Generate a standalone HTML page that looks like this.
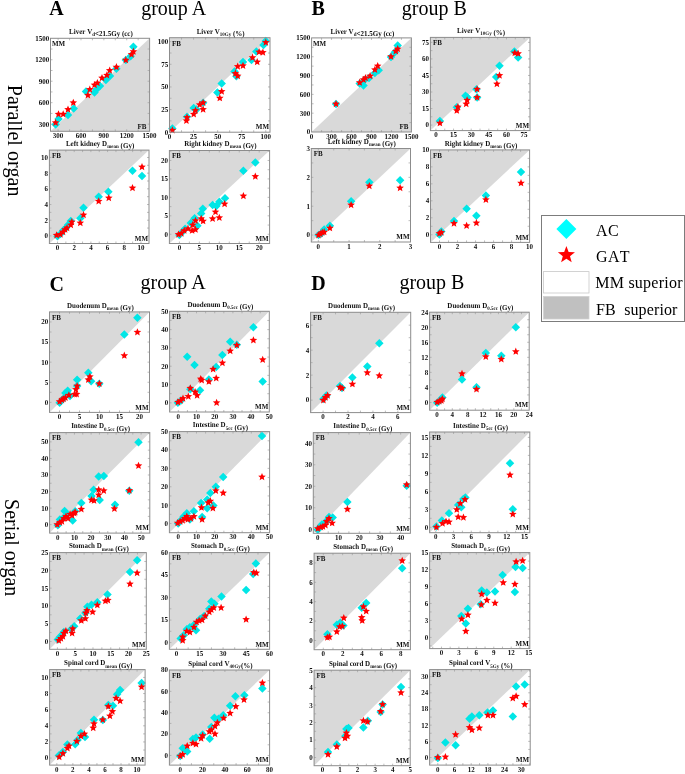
<!DOCTYPE html>
<html><head><meta charset="utf-8"><style>
html,body{margin:0;padding:0;background:#fff;width:685px;height:774px;overflow:hidden}
svg{display:block;font-kerning:none;will-change:transform}
</style></head><body>
<svg width="685" height="774" viewBox="0 0 685 774">
<rect width="685" height="774" fill="#fff"/>
<polygon points="50.5,131.3 149.6,38.3 149.6,131.3" fill="#d9d9d9"/>
<path d="M58.12,131.3v-2M58.12,38.3v2M50.5,124.15h2M149.6,124.15h-2M69.56,131.3v-2M69.56,38.3v2M50.5,113.42h2M149.6,113.42h-2M80.99,131.3v-2M80.99,38.3v2M50.5,102.68h2M149.6,102.68h-2M92.43,131.3v-2M92.43,38.3v2M50.5,91.95h2M149.6,91.95h-2M103.86,131.3v-2M103.86,38.3v2M50.5,81.22h2M149.6,81.22h-2M115.30,131.3v-2M115.30,38.3v2M50.5,70.49h2M149.6,70.49h-2M126.73,131.3v-2M126.73,38.3v2M50.5,59.76h2M149.6,59.76h-2M138.17,131.3v-2M138.17,38.3v2M50.5,49.03h2M149.6,49.03h-2" stroke="#a0a0a0" stroke-width="0.7" fill="none"/>
<polygon points="55.60,120.35 59.85,124.60 55.60,128.85 51.35,124.60" fill="#00e6e6"/>
<polygon points="58.50,114.75 62.75,119.00 58.50,123.25 54.25,119.00" fill="#00e6e6"/>
<polygon points="68.00,110.85 72.25,115.10 68.00,119.35 63.75,115.10" fill="#00e6e6"/>
<polygon points="73.70,104.25 77.95,108.50 73.70,112.75 69.45,108.50" fill="#00e6e6"/>
<polygon points="86.00,87.15 90.25,91.40 86.00,95.65 81.75,91.40" fill="#00e6e6"/>
<polygon points="94.50,88.15 98.75,92.40 94.50,96.65 90.25,92.40" fill="#00e6e6"/>
<polygon points="96.40,85.25 100.65,89.50 96.40,93.75 92.15,89.50" fill="#00e6e6"/>
<polygon points="100.00,81.75 104.25,86.00 100.00,90.25 95.75,86.00" fill="#00e6e6"/>
<polygon points="105.90,75.75 110.15,80.00 105.90,84.25 101.65,80.00" fill="#00e6e6"/>
<polygon points="110.00,71.75 114.25,76.00 110.00,80.25 105.75,76.00" fill="#00e6e6"/>
<polygon points="116.40,64.45 120.65,68.70 116.40,72.95 112.15,68.70" fill="#00e6e6"/>
<polygon points="125.80,55.85 130.05,60.10 125.80,64.35 121.55,60.10" fill="#00e6e6"/>
<polygon points="130.60,52.05 134.85,56.30 130.60,60.55 126.35,56.30" fill="#00e6e6"/>
<polygon points="133.40,42.55 137.65,46.80 133.40,51.05 129.15,46.80" fill="#00e6e6"/>
<polygon points="55.60,118.70 56.66,121.24 59.40,121.46 57.31,123.26 57.95,125.94 55.60,124.50 53.25,125.94 53.89,123.26 51.80,121.46 54.54,121.24" fill="#ff0000"/>
<polygon points="58.50,110.20 59.56,112.74 62.30,112.96 60.21,114.76 60.85,117.44 58.50,116.00 56.15,117.44 56.79,114.76 54.70,112.96 57.44,112.74" fill="#ff0000"/>
<polygon points="63.20,110.20 64.26,112.74 67.00,112.96 64.91,114.76 65.55,117.44 63.20,116.00 60.85,117.44 61.49,114.76 59.40,112.96 62.14,112.74" fill="#ff0000"/>
<polygon points="68.00,105.50 69.06,108.04 71.80,108.26 69.71,110.06 70.35,112.74 68.00,111.30 65.65,112.74 66.29,110.06 64.20,108.26 66.94,108.04" fill="#ff0000"/>
<polygon points="73.30,98.80 74.36,101.34 77.10,101.56 75.01,103.36 75.65,106.04 73.30,104.60 70.95,106.04 71.59,103.36 69.50,101.56 72.24,101.34" fill="#ff0000"/>
<polygon points="87.90,91.20 88.96,93.74 91.70,93.96 89.61,95.76 90.25,98.44 87.90,97.00 85.55,98.44 86.19,95.76 84.10,93.96 86.84,93.74" fill="#ff0000"/>
<polygon points="89.80,85.50 90.86,88.04 93.60,88.26 91.51,90.06 92.15,92.74 89.80,91.30 87.45,92.74 88.09,90.06 86.00,88.26 88.74,88.04" fill="#ff0000"/>
<polygon points="94.50,81.00 95.56,83.54 98.30,83.76 96.21,85.56 96.85,88.24 94.50,86.80 92.15,88.24 92.79,85.56 90.70,83.76 93.44,83.54" fill="#ff0000"/>
<polygon points="97.40,79.00 98.46,81.54 101.20,81.76 99.11,83.56 99.75,86.24 97.40,84.80 95.05,86.24 95.69,83.56 93.60,81.76 96.34,81.54" fill="#ff0000"/>
<polygon points="102.00,74.00 103.06,76.54 105.80,76.76 103.71,78.56 104.35,81.24 102.00,79.80 99.65,81.24 100.29,78.56 98.20,76.76 100.94,76.54" fill="#ff0000"/>
<polygon points="106.90,71.30 107.96,73.84 110.70,74.06 108.61,75.86 109.25,78.54 106.90,77.10 104.55,78.54 105.19,75.86 103.10,74.06 105.84,73.84" fill="#ff0000"/>
<polygon points="109.70,66.50 110.76,69.04 113.50,69.26 111.41,71.06 112.05,73.74 109.70,72.30 107.35,73.74 107.99,71.06 105.90,69.26 108.64,69.04" fill="#ff0000"/>
<polygon points="116.40,63.10 117.46,65.64 120.20,65.86 118.11,67.66 118.75,70.34 116.40,68.90 114.05,70.34 114.69,67.66 112.60,65.86 115.34,65.64" fill="#ff0000"/>
<polygon points="125.80,56.10 126.86,58.64 129.60,58.86 127.51,60.66 128.15,63.34 125.80,61.90 123.45,63.34 124.09,60.66 122.00,58.86 124.74,58.64" fill="#ff0000"/>
<polygon points="131.50,50.40 132.56,52.94 135.30,53.16 133.21,54.96 133.85,57.64 131.50,56.20 129.15,57.64 129.79,54.96 127.70,53.16 130.44,52.94" fill="#ff0000"/>
<polygon points="133.40,47.60 134.46,50.14 137.20,50.36 135.11,52.16 135.75,54.84 133.40,53.40 131.05,54.84 131.69,52.16 129.60,50.36 132.34,50.14" fill="#ff0000"/>
<rect x="50.5" y="38.3" width="99.10" height="93.00" fill="none" stroke="#8c8c8c" stroke-width="1"/>
<g font-family="Liberation Serif, serif" text-rendering="geometricPrecision" font-weight="bold" font-size="7" fill="#111"><text x="58.12" y="138.00" text-anchor="middle" transform="matrix(1,0,0,1.08,0,-11.040)">300</text><text x="49.20" y="126.55" text-anchor="end" transform="matrix(1,0,0,1.08,0,-10.124)">300</text><text x="80.99" y="138.00" text-anchor="middle" transform="matrix(1,0,0,1.08,0,-11.040)">600</text><text x="49.20" y="105.08" text-anchor="end" transform="matrix(1,0,0,1.08,0,-8.407)">600</text><text x="103.86" y="138.00" text-anchor="middle" transform="matrix(1,0,0,1.08,0,-11.040)">900</text><text x="49.20" y="83.62" text-anchor="end" transform="matrix(1,0,0,1.08,0,-6.690)">900</text><text x="126.73" y="138.00" text-anchor="middle" transform="matrix(1,0,0,1.08,0,-11.040)">1200</text><text x="49.20" y="62.16" text-anchor="end" transform="matrix(1,0,0,1.08,0,-4.973)">1200</text><text x="149.60" y="138.00" text-anchor="middle" transform="matrix(1,0,0,1.08,0,-11.040)">1500</text><text x="49.20" y="40.70" text-anchor="end" transform="matrix(1,0,0,1.08,0,-3.256)">1500</text><text x="51.90" y="46.10" text-anchor="start" transform="matrix(1,0,0,1.08,0,-3.688)">MM</text><text x="137.60" y="128.50" text-anchor="start" transform="matrix(1,0,0,1.08,0,-10.280)">FB</text></g>
<g font-family="Liberation Serif, serif" text-rendering="geometricPrecision" font-weight="bold" font-size="7" fill="#111"><text x="100.95" y="34.10" text-anchor="middle" transform="matrix(1,0,0,1.08,0,-2.728)"><tspan>Liver V</tspan><tspan font-size="5" dy="2.0">d</tspan><tspan dy="-2.0"></tspan><tspan>&lt;21.5Gy (cc)</tspan></text></g>
<polygon points="169.5,132.2 270,37.7 169.5,37.7" fill="#d9d9d9"/>
<path d="M181.53,132.2v-2M181.53,37.7v2M169.5,120.89h2M270,120.89h-2M193.57,132.2v-2M193.57,37.7v2M169.5,109.57h2M270,109.57h-2M205.60,132.2v-2M205.60,37.7v2M169.5,98.26h2M270,98.26h-2M217.63,132.2v-2M217.63,37.7v2M169.5,86.94h2M270,86.94h-2M229.67,132.2v-2M229.67,37.7v2M169.5,75.63h2M270,75.63h-2M241.70,132.2v-2M241.70,37.7v2M169.5,64.31h2M270,64.31h-2M253.73,132.2v-2M253.73,37.7v2M169.5,53.00h2M270,53.00h-2M265.76,132.2v-2M265.76,37.7v2M169.5,41.68h2M270,41.68h-2" stroke="#a0a0a0" stroke-width="0.7" fill="none"/>
<polygon points="172.40,124.15 176.65,128.40 172.40,132.65 168.15,128.40" fill="#00e6e6"/>
<polygon points="187.00,112.45 191.25,116.70 187.00,120.95 182.75,116.70" fill="#00e6e6"/>
<polygon points="193.70,103.75 197.95,108.00 193.70,112.25 189.45,108.00" fill="#00e6e6"/>
<polygon points="196.50,105.25 200.75,109.50 196.50,113.75 192.25,109.50" fill="#00e6e6"/>
<polygon points="203.10,98.55 207.35,102.80 203.10,107.05 198.85,102.80" fill="#00e6e6"/>
<polygon points="217.40,88.15 221.65,92.40 217.40,96.65 213.15,92.40" fill="#00e6e6"/>
<polygon points="221.70,79.25 225.95,83.50 221.70,87.75 217.45,83.50" fill="#00e6e6"/>
<polygon points="234.50,67.25 238.75,71.50 234.50,75.75 230.25,71.50" fill="#00e6e6"/>
<polygon points="236.40,71.95 240.65,76.20 236.40,80.45 232.15,76.20" fill="#00e6e6"/>
<polygon points="243.00,57.75 247.25,62.00 243.00,66.25 238.75,62.00" fill="#00e6e6"/>
<polygon points="251.50,55.85 255.75,60.10 251.50,64.35 247.25,60.10" fill="#00e6e6"/>
<polygon points="256.30,47.35 260.55,51.60 256.30,55.85 252.05,51.60" fill="#00e6e6"/>
<polygon points="263.50,40.65 267.75,44.90 263.50,49.15 259.25,44.90" fill="#00e6e6"/>
<polygon points="265.80,36.85 270.05,41.10 265.80,45.35 261.55,41.10" fill="#00e6e6"/>
<polygon points="172.40,126.30 173.46,128.84 176.20,129.06 174.11,130.86 174.75,133.54 172.40,132.10 170.05,133.54 170.69,130.86 168.60,129.06 171.34,128.84" fill="#ff0000"/>
<polygon points="186.40,116.80 187.46,119.34 190.20,119.56 188.11,121.36 188.75,124.04 186.40,122.60 184.05,124.04 184.69,121.36 182.60,119.56 185.34,119.34" fill="#ff0000"/>
<polygon points="187.00,113.50 188.06,116.04 190.80,116.26 188.71,118.06 189.35,120.74 187.00,119.30 184.65,120.74 185.29,118.06 183.20,116.26 185.94,116.04" fill="#ff0000"/>
<polygon points="193.70,110.20 194.76,112.74 197.50,112.96 195.41,114.76 196.05,117.44 193.70,116.00 191.35,117.44 191.99,114.76 189.90,112.96 192.64,112.74" fill="#ff0000"/>
<polygon points="195.50,106.40 196.56,108.94 199.30,109.16 197.21,110.96 197.85,113.64 195.50,112.20 193.15,113.64 193.79,110.96 191.70,109.16 194.44,108.94" fill="#ff0000"/>
<polygon points="199.70,100.70 200.76,103.24 203.50,103.46 201.41,105.26 202.05,107.94 199.70,106.50 197.35,107.94 197.99,105.26 195.90,103.46 198.64,103.24" fill="#ff0000"/>
<polygon points="203.10,98.80 204.16,101.34 206.90,101.56 204.81,103.36 205.45,106.04 203.10,104.60 200.75,106.04 201.39,103.36 199.30,101.56 202.04,101.34" fill="#ff0000"/>
<polygon points="203.10,105.50 204.16,108.04 206.90,108.26 204.81,110.06 205.45,112.74 203.10,111.30 200.75,112.74 201.39,110.06 199.30,108.26 202.04,108.04" fill="#ff0000"/>
<polygon points="219.80,94.10 220.86,96.64 223.60,96.86 221.51,98.66 222.15,101.34 219.80,99.90 217.45,101.34 218.09,98.66 216.00,96.86 218.74,96.64" fill="#ff0000"/>
<polygon points="221.70,87.40 222.76,89.94 225.50,90.16 223.41,91.96 224.05,94.64 221.70,93.20 219.35,94.64 219.99,91.96 217.90,90.16 220.64,89.94" fill="#ff0000"/>
<polygon points="235.40,69.40 236.46,71.94 239.20,72.16 237.11,73.96 237.75,76.64 235.40,75.20 233.05,76.64 233.69,73.96 231.60,72.16 234.34,71.94" fill="#ff0000"/>
<polygon points="237.70,62.40 238.76,64.94 241.50,65.16 239.41,66.96 240.05,69.64 237.70,68.20 235.35,69.64 235.99,66.96 233.90,65.16 236.64,64.94" fill="#ff0000"/>
<polygon points="237.70,71.90 238.76,74.44 241.50,74.66 239.41,76.46 240.05,79.14 237.70,77.70 235.35,79.14 235.99,76.46 233.90,74.66 236.64,74.44" fill="#ff0000"/>
<polygon points="243.00,61.80 244.06,64.34 246.80,64.56 244.71,66.36 245.35,69.04 243.00,67.60 240.65,69.04 241.29,66.36 239.20,64.56 241.94,64.34" fill="#ff0000"/>
<polygon points="252.50,53.60 253.56,56.14 256.30,56.36 254.21,58.16 254.85,60.84 252.50,59.40 250.15,60.84 250.79,58.16 248.70,56.36 251.44,56.14" fill="#ff0000"/>
<polygon points="257.20,58.00 258.26,60.54 261.00,60.76 258.91,62.56 259.55,65.24 257.20,63.80 254.85,65.24 255.49,62.56 253.40,60.76 256.14,60.54" fill="#ff0000"/>
<polygon points="259.10,48.00 260.16,50.54 262.90,50.76 260.81,52.56 261.45,55.24 259.10,53.80 256.75,55.24 257.39,52.56 255.30,50.76 258.04,50.54" fill="#ff0000"/>
<polygon points="262.90,48.50 263.96,51.04 266.70,51.26 264.61,53.06 265.25,55.74 262.90,54.30 260.55,55.74 261.19,53.06 259.10,51.26 261.84,51.04" fill="#ff0000"/>
<polygon points="265.80,38.50 266.86,41.04 269.60,41.26 267.51,43.06 268.15,45.74 265.80,44.30 263.45,45.74 264.09,43.06 262.00,41.26 264.74,41.04" fill="#ff0000"/>
<rect x="169.5" y="37.7" width="100.50" height="94.50" fill="none" stroke="#8c8c8c" stroke-width="1"/>
<g font-family="Liberation Serif, serif" text-rendering="geometricPrecision" font-weight="bold" font-size="7" fill="#111"><text x="169.50" y="138.90" text-anchor="middle" transform="matrix(1,0,0,1.08,0,-11.112)">0</text><text x="168.20" y="134.60" text-anchor="end" transform="matrix(1,0,0,1.08,0,-10.768)">0</text><text x="193.57" y="138.90" text-anchor="middle" transform="matrix(1,0,0,1.08,0,-11.112)">25</text><text x="168.20" y="111.97" text-anchor="end" transform="matrix(1,0,0,1.08,0,-8.958)">25</text><text x="217.63" y="138.90" text-anchor="middle" transform="matrix(1,0,0,1.08,0,-11.112)">50</text><text x="168.20" y="89.34" text-anchor="end" transform="matrix(1,0,0,1.08,0,-7.147)">50</text><text x="241.70" y="138.90" text-anchor="middle" transform="matrix(1,0,0,1.08,0,-11.112)">75</text><text x="168.20" y="66.71" text-anchor="end" transform="matrix(1,0,0,1.08,0,-5.337)">75</text><text x="265.76" y="138.90" text-anchor="middle" transform="matrix(1,0,0,1.08,0,-11.112)">100</text><text x="168.20" y="44.08" text-anchor="end" transform="matrix(1,0,0,1.08,0,-3.527)">100</text><text x="172.00" y="45.50" text-anchor="start" transform="matrix(1,0,0,1.08,0,-3.640)">FB</text><text x="255.80" y="129.40" text-anchor="start" transform="matrix(1,0,0,1.08,0,-10.352)">MM</text></g>
<g font-family="Liberation Serif, serif" text-rendering="geometricPrecision" font-weight="bold" font-size="7" fill="#111"><text x="220.65" y="33.50" text-anchor="middle" transform="matrix(1,0,0,1.08,0,-2.680)"><tspan>Liver V</tspan><tspan font-size="5" dy="2.0">10Gy</tspan><tspan dy="-2.0"></tspan><tspan> (%)</tspan></text></g>
<polygon points="311.6,132.0 411.4,37.9 411.4,132.0" fill="#d9d9d9"/>
<path d="M321.58,132.0v-2M321.58,37.9v2M311.6,122.59h2M411.4,122.59h-2M331.56,132.0v-2M331.56,37.9v2M311.6,113.18h2M411.4,113.18h-2M341.54,132.0v-2M341.54,37.9v2M311.6,103.77h2M411.4,103.77h-2M351.52,132.0v-2M351.52,37.9v2M311.6,94.36h2M411.4,94.36h-2M361.50,132.0v-2M361.50,37.9v2M311.6,84.95h2M411.4,84.95h-2M371.48,132.0v-2M371.48,37.9v2M311.6,75.54h2M411.4,75.54h-2M381.46,132.0v-2M381.46,37.9v2M311.6,66.13h2M411.4,66.13h-2M391.44,132.0v-2M391.44,37.9v2M311.6,56.72h2M411.4,56.72h-2M401.42,132.0v-2M401.42,37.9v2M311.6,47.31h2M411.4,47.31h-2" stroke="#a0a0a0" stroke-width="0.7" fill="none"/>
<polygon points="336.00,99.75 340.25,104.00 336.00,108.25 331.75,104.00" fill="#00e6e6"/>
<polygon points="359.70,79.25 363.95,83.50 359.70,87.75 355.45,83.50" fill="#00e6e6"/>
<polygon points="363.50,81.15 367.75,85.40 363.50,89.65 359.25,85.40" fill="#00e6e6"/>
<polygon points="364.50,75.75 368.75,80.00 364.50,84.25 360.25,80.00" fill="#00e6e6"/>
<polygon points="369.00,73.75 373.25,78.00 369.00,82.25 364.75,78.00" fill="#00e6e6"/>
<polygon points="374.90,68.75 379.15,73.00 374.90,77.25 370.65,73.00" fill="#00e6e6"/>
<polygon points="378.70,65.95 382.95,70.20 378.70,74.45 374.45,70.20" fill="#00e6e6"/>
<polygon points="391.00,52.75 395.25,57.00 391.00,61.25 386.75,57.00" fill="#00e6e6"/>
<polygon points="394.80,47.95 399.05,52.20 394.80,56.45 390.55,52.20" fill="#00e6e6"/>
<polygon points="397.70,41.25 401.95,45.50 397.70,49.75 393.45,45.50" fill="#00e6e6"/>
<polygon points="336.00,100.00 337.06,102.54 339.80,102.76 337.71,104.56 338.35,107.24 336.00,105.80 333.65,107.24 334.29,104.56 332.20,102.76 334.94,102.54" fill="#ff0000"/>
<polygon points="359.70,78.60 360.76,81.14 363.50,81.36 361.41,83.16 362.05,85.84 359.70,84.40 357.35,85.84 357.99,83.16 355.90,81.36 358.64,81.14" fill="#ff0000"/>
<polygon points="363.50,75.70 364.56,78.24 367.30,78.46 365.21,80.26 365.85,82.94 363.50,81.50 361.15,82.94 361.79,80.26 359.70,78.46 362.44,78.24" fill="#ff0000"/>
<polygon points="365.50,74.00 366.56,76.54 369.30,76.76 367.21,78.56 367.85,81.24 365.50,79.80 363.15,81.24 363.79,78.56 361.70,76.76 364.44,76.54" fill="#ff0000"/>
<polygon points="370.10,71.90 371.16,74.44 373.90,74.66 371.81,76.46 372.45,79.14 370.10,77.70 367.75,79.14 368.39,76.46 366.30,74.66 369.04,74.44" fill="#ff0000"/>
<polygon points="374.90,65.80 375.96,68.34 378.70,68.56 376.61,70.36 377.25,73.04 374.90,71.60 372.55,73.04 373.19,70.36 371.10,68.56 373.84,68.34" fill="#ff0000"/>
<polygon points="377.70,62.00 378.76,64.54 381.50,64.76 379.41,66.56 380.05,69.24 377.70,67.80 375.35,69.24 375.99,66.56 373.90,64.76 376.64,64.54" fill="#ff0000"/>
<polygon points="391.00,52.60 392.06,55.14 394.80,55.36 392.71,57.16 393.35,59.84 391.00,58.40 388.65,59.84 389.29,57.16 387.20,55.36 389.94,55.14" fill="#ff0000"/>
<polygon points="395.80,47.20 396.86,49.74 399.60,49.96 397.51,51.76 398.15,54.44 395.80,53.00 393.45,54.44 394.09,51.76 392.00,49.96 394.74,49.74" fill="#ff0000"/>
<polygon points="397.70,45.00 398.76,47.54 401.50,47.76 399.41,49.56 400.05,52.24 397.70,50.80 395.35,52.24 395.99,49.56 393.90,47.76 396.64,47.54" fill="#ff0000"/>
<rect x="311.6" y="37.9" width="99.80" height="94.10" fill="none" stroke="#8c8c8c" stroke-width="1"/>
<g font-family="Liberation Serif, serif" text-rendering="geometricPrecision" font-weight="bold" font-size="7" fill="#111"><text x="311.60" y="138.70" text-anchor="middle" transform="matrix(1,0,0,1.08,0,-11.096)">0</text><text x="310.30" y="134.40" text-anchor="end" transform="matrix(1,0,0,1.08,0,-10.752)">0</text><text x="331.56" y="138.70" text-anchor="middle" transform="matrix(1,0,0,1.08,0,-11.096)">300</text><text x="310.30" y="115.58" text-anchor="end" transform="matrix(1,0,0,1.08,0,-9.246)">300</text><text x="351.52" y="138.70" text-anchor="middle" transform="matrix(1,0,0,1.08,0,-11.096)">600</text><text x="310.30" y="96.76" text-anchor="end" transform="matrix(1,0,0,1.08,0,-7.741)">600</text><text x="371.48" y="138.70" text-anchor="middle" transform="matrix(1,0,0,1.08,0,-11.096)">900</text><text x="310.30" y="77.94" text-anchor="end" transform="matrix(1,0,0,1.08,0,-6.235)">900</text><text x="391.44" y="138.70" text-anchor="middle" transform="matrix(1,0,0,1.08,0,-11.096)">1200</text><text x="310.30" y="59.12" text-anchor="end" transform="matrix(1,0,0,1.08,0,-4.730)">1200</text><text x="411.40" y="138.70" text-anchor="middle" transform="matrix(1,0,0,1.08,0,-11.096)">1500</text><text x="310.30" y="40.30" text-anchor="end" transform="matrix(1,0,0,1.08,0,-3.224)">1500</text><text x="313.00" y="45.70" text-anchor="start" transform="matrix(1,0,0,1.08,0,-3.656)">MM</text><text x="399.40" y="129.20" text-anchor="start" transform="matrix(1,0,0,1.08,0,-10.336)">FB</text></g>
<g font-family="Liberation Serif, serif" text-rendering="geometricPrecision" font-weight="bold" font-size="7" fill="#111"><text x="362.40" y="33.70" text-anchor="middle" transform="matrix(1,0,0,1.08,0,-2.696)"><tspan>Liver V</tspan><tspan font-size="5" dy="2.0">d</tspan><tspan dy="-2.0"></tspan><tspan>&lt;21.5Gy (cc)</tspan></text></g>
<polygon points="430.4,130.6 530.0,37.4 430.4,37.4" fill="#d9d9d9"/>
<path d="M435.93,130.6v-2M435.93,37.4v2M430.4,125.09h2M530.0,125.09h-2M444.75,130.6v-2M444.75,37.4v2M430.4,116.81h2M530.0,116.81h-2M453.57,130.6v-2M453.57,37.4v2M430.4,108.54h2M530.0,108.54h-2M462.38,130.6v-2M462.38,37.4v2M430.4,100.27h2M530.0,100.27h-2M471.20,130.6v-2M471.20,37.4v2M430.4,92.00h2M530.0,92.00h-2M480.02,130.6v-2M480.02,37.4v2M430.4,83.72h2M530.0,83.72h-2M488.84,130.6v-2M488.84,37.4v2M430.4,75.45h2M530.0,75.45h-2M497.66,130.6v-2M497.66,37.4v2M430.4,67.18h2M530.0,67.18h-2M506.48,130.6v-2M506.48,37.4v2M430.4,58.91h2M530.0,58.91h-2M515.30,130.6v-2M515.30,37.4v2M430.4,50.64h2M530.0,50.64h-2M524.12,130.6v-2M524.12,37.4v2M430.4,42.36h2M530.0,42.36h-2" stroke="#a0a0a0" stroke-width="0.7" fill="none"/>
<polygon points="439.90,116.65 444.15,120.90 439.90,125.15 435.65,120.90" fill="#00e6e6"/>
<polygon points="456.80,103.05 461.05,107.30 456.80,111.55 452.55,107.30" fill="#00e6e6"/>
<polygon points="465.50,91.45 469.75,95.70 465.50,99.95 461.25,95.70" fill="#00e6e6"/>
<polygon points="467.50,93.15 471.75,97.40 467.50,101.65 463.25,97.40" fill="#00e6e6"/>
<polygon points="476.50,85.05 480.75,89.30 476.50,93.55 472.25,89.30" fill="#00e6e6"/>
<polygon points="477.10,93.15 481.35,97.40 477.10,101.65 472.85,97.40" fill="#00e6e6"/>
<polygon points="496.20,72.85 500.45,77.10 496.20,81.35 491.95,77.10" fill="#00e6e6"/>
<polygon points="499.50,61.45 503.75,65.70 499.50,69.95 495.25,65.70" fill="#00e6e6"/>
<polygon points="514.40,47.25 518.65,51.50 514.40,55.75 510.15,51.50" fill="#00e6e6"/>
<polygon points="518.10,53.15 522.35,57.40 518.10,61.65 513.85,57.40" fill="#00e6e6"/>
<polygon points="439.90,119.10 440.96,121.64 443.70,121.86 441.61,123.66 442.25,126.34 439.90,124.90 437.55,126.34 438.19,123.66 436.10,121.86 438.84,121.64" fill="#ff0000"/>
<polygon points="456.80,106.60 457.86,109.14 460.60,109.36 458.51,111.16 459.15,113.84 456.80,112.40 454.45,113.84 455.09,111.16 453.00,109.36 455.74,109.14" fill="#ff0000"/>
<polygon points="457.90,102.90 458.96,105.44 461.70,105.66 459.61,107.46 460.25,110.14 457.90,108.70 455.55,110.14 456.19,107.46 454.10,105.66 456.84,105.44" fill="#ff0000"/>
<polygon points="466.20,100.00 467.26,102.54 470.00,102.76 467.91,104.56 468.55,107.24 466.20,105.80 463.85,107.24 464.49,104.56 462.40,102.76 465.14,102.54" fill="#ff0000"/>
<polygon points="467.10,96.30 468.16,98.84 470.90,99.06 468.81,100.86 469.45,103.54 467.10,102.10 464.75,103.54 465.39,100.86 463.30,99.06 466.04,98.84" fill="#ff0000"/>
<polygon points="477.10,85.30 478.16,87.84 480.90,88.06 478.81,89.86 479.45,92.54 477.10,91.10 474.75,92.54 475.39,89.86 473.30,88.06 476.04,87.84" fill="#ff0000"/>
<polygon points="477.10,93.40 478.16,95.94 480.90,96.16 478.81,97.96 479.45,100.64 477.10,99.20 474.75,100.64 475.39,97.96 473.30,96.16 476.04,95.94" fill="#ff0000"/>
<polygon points="496.90,79.90 497.96,82.44 500.70,82.66 498.61,84.46 499.25,87.14 496.90,85.70 494.55,87.14 495.19,84.46 493.10,82.66 495.84,82.44" fill="#ff0000"/>
<polygon points="499.50,71.50 500.56,74.04 503.30,74.26 501.21,76.06 501.85,78.74 499.50,77.30 497.15,78.74 497.79,76.06 495.70,74.26 498.44,74.04" fill="#ff0000"/>
<polygon points="514.80,49.00 515.86,51.54 518.60,51.76 516.51,53.56 517.15,56.24 514.80,54.80 512.45,56.24 513.09,53.56 511.00,51.76 513.74,51.54" fill="#ff0000"/>
<polygon points="518.10,49.60 519.16,52.14 521.90,52.36 519.81,54.16 520.45,56.84 518.10,55.40 515.75,56.84 516.39,54.16 514.30,52.36 517.04,52.14" fill="#ff0000"/>
<rect x="430.4" y="37.4" width="99.60" height="93.20" fill="none" stroke="#8c8c8c" stroke-width="1"/>
<g font-family="Liberation Serif, serif" text-rendering="geometricPrecision" font-weight="bold" font-size="7" fill="#111"><text x="435.93" y="137.30" text-anchor="middle" transform="matrix(1,0,0,1.08,0,-10.984)">0</text><text x="429.10" y="127.49" text-anchor="end" transform="matrix(1,0,0,1.08,0,-10.199)">0</text><text x="453.57" y="137.30" text-anchor="middle" transform="matrix(1,0,0,1.08,0,-10.984)">15</text><text x="429.10" y="110.94" text-anchor="end" transform="matrix(1,0,0,1.08,0,-8.875)">15</text><text x="471.20" y="137.30" text-anchor="middle" transform="matrix(1,0,0,1.08,0,-10.984)">30</text><text x="429.10" y="94.40" text-anchor="end" transform="matrix(1,0,0,1.08,0,-7.552)">30</text><text x="488.84" y="137.30" text-anchor="middle" transform="matrix(1,0,0,1.08,0,-10.984)">45</text><text x="429.10" y="77.85" text-anchor="end" transform="matrix(1,0,0,1.08,0,-6.228)">45</text><text x="506.48" y="137.30" text-anchor="middle" transform="matrix(1,0,0,1.08,0,-10.984)">60</text><text x="429.10" y="61.31" text-anchor="end" transform="matrix(1,0,0,1.08,0,-4.905)">60</text><text x="524.12" y="137.30" text-anchor="middle" transform="matrix(1,0,0,1.08,0,-10.984)">75</text><text x="429.10" y="44.76" text-anchor="end" transform="matrix(1,0,0,1.08,0,-3.581)">75</text><text x="432.90" y="45.20" text-anchor="start" transform="matrix(1,0,0,1.08,0,-3.616)">FB</text><text x="515.80" y="127.80" text-anchor="start" transform="matrix(1,0,0,1.08,0,-10.224)">MM</text></g>
<g font-family="Liberation Serif, serif" text-rendering="geometricPrecision" font-weight="bold" font-size="7" fill="#111"><text x="481.10" y="33.20" text-anchor="middle" transform="matrix(1,0,0,1.08,0,-2.656)"><tspan>Liver V</tspan><tspan font-size="5" dy="2.0">10Gy</tspan><tspan dy="-2.0"></tspan><tspan> (%)</tspan></text></g>
<polygon points="49.4,243.5 149,150.1 49.4,150.1" fill="#d9d9d9"/>
<path d="M57.50,243.5v-2M57.50,150.1v2M49.4,235.89h2M149,235.89h-2M65.85,243.5v-2M65.85,150.1v2M49.4,228.05h2M149,228.05h-2M74.20,243.5v-2M74.20,150.1v2M49.4,220.21h2M149,220.21h-2M82.54,243.5v-2M82.54,150.1v2M49.4,212.37h2M149,212.37h-2M90.89,243.5v-2M90.89,150.1v2M49.4,204.52h2M149,204.52h-2M99.24,243.5v-2M99.24,150.1v2M49.4,196.68h2M149,196.68h-2M107.59,243.5v-2M107.59,150.1v2M49.4,188.84h2M149,188.84h-2M115.94,243.5v-2M115.94,150.1v2M49.4,181.00h2M149,181.00h-2M124.29,243.5v-2M124.29,150.1v2M49.4,173.16h2M149,173.16h-2M132.64,243.5v-2M132.64,150.1v2M49.4,165.31h2M149,165.31h-2M140.99,243.5v-2M140.99,150.1v2M49.4,157.47h2M149,157.47h-2" stroke="#a0a0a0" stroke-width="0.7" fill="none"/>
<polygon points="57.50,232.05 61.75,236.30 57.50,240.55 53.25,236.30" fill="#00e6e6"/>
<polygon points="60.40,229.75 64.65,234.00 60.40,238.25 56.15,234.00" fill="#00e6e6"/>
<polygon points="63.20,226.35 67.45,230.60 63.20,234.85 58.95,230.60" fill="#00e6e6"/>
<polygon points="66.10,223.45 70.35,227.70 66.10,231.95 61.85,227.70" fill="#00e6e6"/>
<polygon points="68.00,220.65 72.25,224.90 68.00,229.15 63.75,224.90" fill="#00e6e6"/>
<polygon points="70.80,216.85 75.05,221.10 70.80,225.35 66.55,221.10" fill="#00e6e6"/>
<polygon points="80.30,214.05 84.55,218.30 80.30,222.55 76.05,218.30" fill="#00e6e6"/>
<polygon points="83.50,203.55 87.75,207.80 83.50,212.05 79.25,207.80" fill="#00e6e6"/>
<polygon points="98.70,192.55 102.95,196.80 98.70,201.05 94.45,196.80" fill="#00e6e6"/>
<polygon points="108.40,187.45 112.65,191.70 108.40,195.95 104.15,191.70" fill="#00e6e6"/>
<polygon points="132.50,166.55 136.75,170.80 132.50,175.05 128.25,170.80" fill="#00e6e6"/>
<polygon points="142.00,171.65 146.25,175.90 142.00,180.15 137.75,175.90" fill="#00e6e6"/>
<polygon points="56.60,231.30 57.66,233.84 60.40,234.06 58.31,235.86 58.95,238.54 56.60,237.10 54.25,238.54 54.89,235.86 52.80,234.06 55.54,233.84" fill="#ff0000"/>
<polygon points="60.40,230.40 61.46,232.94 64.20,233.16 62.11,234.96 62.75,237.64 60.40,236.20 58.05,237.64 58.69,234.96 56.60,233.16 59.34,232.94" fill="#ff0000"/>
<polygon points="63.00,228.00 64.06,230.54 66.80,230.76 64.71,232.56 65.35,235.24 63.00,233.80 60.65,235.24 61.29,232.56 59.20,230.76 61.94,230.54" fill="#ff0000"/>
<polygon points="65.10,225.60 66.16,228.14 68.90,228.36 66.81,230.16 67.45,232.84 65.10,231.40 62.75,232.84 63.39,230.16 61.30,228.36 64.04,228.14" fill="#ff0000"/>
<polygon points="67.00,224.00 68.06,226.54 70.80,226.76 68.71,228.56 69.35,231.24 67.00,229.80 64.65,231.24 65.29,228.56 63.20,226.76 65.94,226.54" fill="#ff0000"/>
<polygon points="70.80,220.90 71.86,223.44 74.60,223.66 72.51,225.46 73.15,228.14 70.80,226.70 68.45,228.14 69.09,225.46 67.00,223.66 69.74,223.44" fill="#ff0000"/>
<polygon points="71.80,218.00 72.86,220.54 75.60,220.76 73.51,222.56 74.15,225.24 71.80,223.80 69.45,225.24 70.09,222.56 68.00,220.76 70.74,220.54" fill="#ff0000"/>
<polygon points="80.30,219.00 81.36,221.54 84.10,221.76 82.01,223.56 82.65,226.24 80.30,224.80 77.95,226.24 78.59,223.56 76.50,221.76 79.24,221.54" fill="#ff0000"/>
<polygon points="83.50,211.00 84.56,213.54 87.30,213.76 85.21,215.56 85.85,218.24 83.50,216.80 81.15,218.24 81.79,215.56 79.70,213.76 82.44,213.54" fill="#ff0000"/>
<polygon points="98.70,197.20 99.76,199.74 102.50,199.96 100.41,201.76 101.05,204.44 98.70,203.00 96.35,204.44 96.99,201.76 94.90,199.96 97.64,199.74" fill="#ff0000"/>
<polygon points="108.80,193.90 109.86,196.44 112.60,196.66 110.51,198.46 111.15,201.14 108.80,199.70 106.45,201.14 107.09,198.46 105.00,196.66 107.74,196.44" fill="#ff0000"/>
<polygon points="132.50,183.90 133.56,186.44 136.30,186.66 134.21,188.46 134.85,191.14 132.50,189.70 130.15,191.14 130.79,188.46 128.70,186.66 131.44,186.44" fill="#ff0000"/>
<polygon points="142.00,163.00 143.06,165.54 145.80,165.76 143.71,167.56 144.35,170.24 142.00,168.80 139.65,170.24 140.29,167.56 138.20,165.76 140.94,165.54" fill="#ff0000"/>
<rect x="49.4" y="150.1" width="99.60" height="93.40" fill="none" stroke="#8c8c8c" stroke-width="1"/>
<g font-family="Liberation Serif, serif" text-rendering="geometricPrecision" font-weight="bold" font-size="7" fill="#111"><text x="57.50" y="250.20" text-anchor="middle" transform="matrix(1,0,0,1.08,0,-20.016)">0</text><text x="48.10" y="238.29" text-anchor="end" transform="matrix(1,0,0,1.08,0,-19.063)">0</text><text x="74.20" y="250.20" text-anchor="middle" transform="matrix(1,0,0,1.08,0,-20.016)">2</text><text x="48.10" y="222.61" text-anchor="end" transform="matrix(1,0,0,1.08,0,-17.809)">2</text><text x="90.89" y="250.20" text-anchor="middle" transform="matrix(1,0,0,1.08,0,-20.016)">4</text><text x="48.10" y="206.92" text-anchor="end" transform="matrix(1,0,0,1.08,0,-16.554)">4</text><text x="107.59" y="250.20" text-anchor="middle" transform="matrix(1,0,0,1.08,0,-20.016)">6</text><text x="48.10" y="191.24" text-anchor="end" transform="matrix(1,0,0,1.08,0,-15.299)">6</text><text x="124.29" y="250.20" text-anchor="middle" transform="matrix(1,0,0,1.08,0,-20.016)">8</text><text x="48.10" y="175.56" text-anchor="end" transform="matrix(1,0,0,1.08,0,-14.044)">8</text><text x="140.99" y="250.20" text-anchor="middle" transform="matrix(1,0,0,1.08,0,-20.016)">10</text><text x="48.10" y="159.87" text-anchor="end" transform="matrix(1,0,0,1.08,0,-12.790)">10</text><text x="51.90" y="157.90" text-anchor="start" transform="matrix(1,0,0,1.08,0,-12.632)">FB</text><text x="134.80" y="240.70" text-anchor="start" transform="matrix(1,0,0,1.08,0,-19.256)">MM</text></g>
<g font-family="Liberation Serif, serif" text-rendering="geometricPrecision" font-weight="bold" font-size="7" fill="#111"><text x="100.10" y="145.90" text-anchor="middle" transform="matrix(1,0,0,1.08,0,-11.672)"><tspan>Left kidney D</tspan><tspan font-size="5" dy="2.0">mean</tspan><tspan dy="-2.0"></tspan><tspan> (Gy)</tspan></text></g>
<polygon points="169.4,243.5 269.6,150.5 169.4,150.5" fill="#d9d9d9"/>
<path d="M179.38,243.5v-2M179.38,150.5v2M169.4,234.27h2M269.6,234.27h-2M189.36,243.5v-2M189.36,150.5v2M169.4,225.05h2M269.6,225.05h-2M199.34,243.5v-2M199.34,150.5v2M169.4,215.82h2M269.6,215.82h-2M209.32,243.5v-2M209.32,150.5v2M169.4,206.60h2M269.6,206.60h-2M219.30,243.5v-2M219.30,150.5v2M169.4,197.37h2M269.6,197.37h-2M229.28,243.5v-2M229.28,150.5v2M169.4,188.14h2M269.6,188.14h-2M239.26,243.5v-2M239.26,150.5v2M169.4,178.92h2M269.6,178.92h-2M249.24,243.5v-2M249.24,150.5v2M169.4,169.69h2M269.6,169.69h-2M259.22,243.5v-2M259.22,150.5v2M169.4,160.46h2M269.6,160.46h-2M169.4,151.24h2M269.6,151.24h-2" stroke="#a0a0a0" stroke-width="0.7" fill="none"/>
<polygon points="179.40,230.75 183.65,235.00 179.40,239.25 175.15,235.00" fill="#00e6e6"/>
<polygon points="182.30,227.75 186.55,232.00 182.30,236.25 178.05,232.00" fill="#00e6e6"/>
<polygon points="185.10,224.45 189.35,228.70 185.10,232.95 180.85,228.70" fill="#00e6e6"/>
<polygon points="190.80,218.75 195.05,223.00 190.80,227.25 186.55,223.00" fill="#00e6e6"/>
<polygon points="194.60,214.05 198.85,218.30 194.60,222.55 190.35,218.30" fill="#00e6e6"/>
<polygon points="197.40,221.55 201.65,225.80 197.40,230.05 193.15,225.80" fill="#00e6e6"/>
<polygon points="201.20,209.25 205.45,213.50 201.20,217.75 196.95,213.50" fill="#00e6e6"/>
<polygon points="202.80,204.55 207.05,208.80 202.80,213.05 198.55,208.80" fill="#00e6e6"/>
<polygon points="212.60,200.75 216.85,205.00 212.60,209.25 208.35,205.00" fill="#00e6e6"/>
<polygon points="216.40,201.65 220.65,205.90 216.40,210.15 212.15,205.90" fill="#00e6e6"/>
<polygon points="219.30,197.45 223.55,201.70 219.30,205.95 215.05,201.70" fill="#00e6e6"/>
<polygon points="225.00,194.05 229.25,198.30 225.00,202.55 220.75,198.30" fill="#00e6e6"/>
<polygon points="243.40,166.55 247.65,170.80 243.40,175.05 239.15,170.80" fill="#00e6e6"/>
<polygon points="255.30,158.35 259.55,162.60 255.30,166.85 251.05,162.60" fill="#00e6e6"/>
<polygon points="178.50,230.40 179.56,232.94 182.30,233.16 180.21,234.96 180.85,237.64 178.50,236.20 176.15,237.64 176.79,234.96 174.70,233.16 177.44,232.94" fill="#ff0000"/>
<polygon points="181.30,229.50 182.36,232.04 185.10,232.26 183.01,234.06 183.65,236.74 181.30,235.30 178.95,236.74 179.59,234.06 177.50,232.26 180.24,232.04" fill="#ff0000"/>
<polygon points="184.20,226.60 185.26,229.14 188.00,229.36 185.91,231.16 186.55,233.84 184.20,232.40 181.85,233.84 182.49,231.16 180.40,229.36 183.14,229.14" fill="#ff0000"/>
<polygon points="188.00,224.70 189.06,227.24 191.80,227.46 189.71,229.26 190.35,231.94 188.00,230.50 185.65,231.94 186.29,229.26 184.20,227.46 186.94,227.24" fill="#ff0000"/>
<polygon points="192.70,220.90 193.76,223.44 196.50,223.66 194.41,225.46 195.05,228.14 192.70,226.70 190.35,228.14 190.99,225.46 188.90,223.66 191.64,223.44" fill="#ff0000"/>
<polygon points="192.10,226.60 193.16,229.14 195.90,229.36 193.81,231.16 194.45,233.84 192.10,232.40 189.75,233.84 190.39,231.16 188.30,229.36 191.04,229.14" fill="#ff0000"/>
<polygon points="195.50,225.60 196.56,228.14 199.30,228.36 197.21,230.16 197.85,232.84 195.50,231.40 193.15,232.84 193.79,230.16 191.70,228.36 194.44,228.14" fill="#ff0000"/>
<polygon points="195.50,216.70 196.56,219.24 199.30,219.46 197.21,221.26 197.85,223.94 195.50,222.50 193.15,223.94 193.79,221.26 191.70,219.46 194.44,219.24" fill="#ff0000"/>
<polygon points="201.20,214.80 202.26,217.34 205.00,217.56 202.91,219.36 203.55,222.04 201.20,220.60 198.85,222.04 199.49,219.36 197.40,217.56 200.14,217.34" fill="#ff0000"/>
<polygon points="203.10,217.10 204.16,219.64 206.90,219.86 204.81,221.66 205.45,224.34 203.10,222.90 200.75,224.34 201.39,221.66 199.30,219.86 202.04,219.64" fill="#ff0000"/>
<polygon points="212.60,214.80 213.66,217.34 216.40,217.56 214.31,219.36 214.95,222.04 212.60,220.60 210.25,222.04 210.89,219.36 208.80,217.56 211.54,217.34" fill="#ff0000"/>
<polygon points="215.50,208.00 216.56,210.54 219.30,210.76 217.21,212.56 217.85,215.24 215.50,213.80 213.15,215.24 213.79,212.56 211.70,210.76 214.44,210.54" fill="#ff0000"/>
<polygon points="219.30,213.70 220.36,216.24 223.10,216.46 221.01,218.26 221.65,220.94 219.30,219.50 216.95,220.94 217.59,218.26 215.50,216.46 218.24,216.24" fill="#ff0000"/>
<polygon points="224.60,200.00 225.66,202.54 228.40,202.76 226.31,204.56 226.95,207.24 224.60,205.80 222.25,207.24 222.89,204.56 220.80,202.76 223.54,202.54" fill="#ff0000"/>
<polygon points="243.40,192.00 244.46,194.54 247.20,194.76 245.11,196.56 245.75,199.24 243.40,197.80 241.05,199.24 241.69,196.56 239.60,194.76 242.34,194.54" fill="#ff0000"/>
<polygon points="255.30,172.50 256.36,175.04 259.10,175.26 257.01,177.06 257.65,179.74 255.30,178.30 252.95,179.74 253.59,177.06 251.50,175.26 254.24,175.04" fill="#ff0000"/>
<rect x="169.4" y="150.5" width="100.20" height="93.00" fill="none" stroke="#8c8c8c" stroke-width="1"/>
<g font-family="Liberation Serif, serif" text-rendering="geometricPrecision" font-weight="bold" font-size="7" fill="#111"><text x="179.38" y="250.20" text-anchor="middle" transform="matrix(1,0,0,1.08,0,-20.016)">0</text><text x="168.10" y="236.67" text-anchor="end" transform="matrix(1,0,0,1.08,0,-18.934)">0</text><text x="199.34" y="250.20" text-anchor="middle" transform="matrix(1,0,0,1.08,0,-20.016)">5</text><text x="168.10" y="218.22" text-anchor="end" transform="matrix(1,0,0,1.08,0,-17.458)">5</text><text x="219.30" y="250.20" text-anchor="middle" transform="matrix(1,0,0,1.08,0,-20.016)">10</text><text x="168.10" y="199.77" text-anchor="end" transform="matrix(1,0,0,1.08,0,-15.982)">10</text><text x="239.26" y="250.20" text-anchor="middle" transform="matrix(1,0,0,1.08,0,-20.016)">15</text><text x="168.10" y="181.32" text-anchor="end" transform="matrix(1,0,0,1.08,0,-14.505)">15</text><text x="259.22" y="250.20" text-anchor="middle" transform="matrix(1,0,0,1.08,0,-20.016)">20</text><text x="168.10" y="162.86" text-anchor="end" transform="matrix(1,0,0,1.08,0,-13.029)">20</text><text x="171.90" y="158.30" text-anchor="start" transform="matrix(1,0,0,1.08,0,-12.664)">FB</text><text x="255.40" y="240.70" text-anchor="start" transform="matrix(1,0,0,1.08,0,-19.256)">MM</text></g>
<g font-family="Liberation Serif, serif" text-rendering="geometricPrecision" font-weight="bold" font-size="7" fill="#111"><text x="220.40" y="146.30" text-anchor="middle" transform="matrix(1,0,0,1.08,0,-11.704)"><tspan>Right kidney D</tspan><tspan font-size="5" dy="2.0">mean</tspan><tspan dy="-2.0"></tspan><tspan> (Gy)</tspan></text></g>
<polygon points="311.3,242 410.5,148.5 311.3,148.5" fill="#d9d9d9"/>
<path d="M318.36,242v-2M318.36,148.5v2M311.3,235.07h2M410.5,235.07h-2M333.72,242v-2M333.72,148.5v2M311.3,220.65h2M410.5,220.65h-2M349.08,242v-2M349.08,148.5v2M311.3,206.22h2M410.5,206.22h-2M364.43,242v-2M364.43,148.5v2M311.3,191.79h2M410.5,191.79h-2M379.79,242v-2M379.79,148.5v2M311.3,177.36h2M410.5,177.36h-2M395.14,242v-2M395.14,148.5v2M311.3,162.93h2M410.5,162.93h-2" stroke="#a0a0a0" stroke-width="0.7" fill="none"/>
<polygon points="318.50,230.75 322.75,235.00 318.50,239.25 314.25,235.00" fill="#00e6e6"/>
<polygon points="321.30,229.15 325.55,233.40 321.30,237.65 317.05,233.40" fill="#00e6e6"/>
<polygon points="324.20,225.35 328.45,229.60 324.20,233.85 319.95,229.60" fill="#00e6e6"/>
<polygon points="329.90,221.55 334.15,225.80 329.90,230.05 325.65,225.80" fill="#00e6e6"/>
<polygon points="351.10,196.95 355.35,201.20 351.10,205.45 346.85,201.20" fill="#00e6e6"/>
<polygon points="369.30,177.95 373.55,182.20 369.30,186.45 365.05,182.20" fill="#00e6e6"/>
<polygon points="400.10,176.05 404.35,180.30 400.10,184.55 395.85,180.30" fill="#00e6e6"/>
<polygon points="318.50,231.30 319.56,233.84 322.30,234.06 320.21,235.86 320.85,238.54 318.50,237.10 316.15,238.54 316.79,235.86 314.70,234.06 317.44,233.84" fill="#ff0000"/>
<polygon points="320.40,230.00 321.46,232.54 324.20,232.76 322.11,234.56 322.75,237.24 320.40,235.80 318.05,237.24 318.69,234.56 316.60,232.76 319.34,232.54" fill="#ff0000"/>
<polygon points="322.30,228.50 323.36,231.04 326.10,231.26 324.01,233.06 324.65,235.74 322.30,234.30 319.95,235.74 320.59,233.06 318.50,231.26 321.24,231.04" fill="#ff0000"/>
<polygon points="324.20,228.10 325.26,230.64 328.00,230.86 325.91,232.66 326.55,235.34 324.20,233.90 321.85,235.34 322.49,232.66 320.40,230.86 323.14,230.64" fill="#ff0000"/>
<polygon points="329.90,224.10 330.96,226.64 333.70,226.86 331.61,228.66 332.25,231.34 329.90,229.90 327.55,231.34 328.19,228.66 326.10,226.86 328.84,226.64" fill="#ff0000"/>
<polygon points="351.10,201.00 352.16,203.54 354.90,203.76 352.81,205.56 353.45,208.24 351.10,206.80 348.75,208.24 349.39,205.56 347.30,203.76 350.04,203.54" fill="#ff0000"/>
<polygon points="369.30,182.00 370.36,184.54 373.10,184.76 371.01,186.56 371.65,189.24 369.30,187.80 366.95,189.24 367.59,186.56 365.50,184.76 368.24,184.54" fill="#ff0000"/>
<polygon points="400.10,183.90 401.16,186.44 403.90,186.66 401.81,188.46 402.45,191.14 400.10,189.70 397.75,191.14 398.39,188.46 396.30,186.66 399.04,186.44" fill="#ff0000"/>
<rect x="311.3" y="148.5" width="99.20" height="93.50" fill="none" stroke="#8c8c8c" stroke-width="1"/>
<g font-family="Liberation Serif, serif" text-rendering="geometricPrecision" font-weight="bold" font-size="7" fill="#111"><text x="318.36" y="248.70" text-anchor="middle" transform="matrix(1,0,0,1.08,0,-19.896)">0</text><text x="310.00" y="237.47" text-anchor="end" transform="matrix(1,0,0,1.08,0,-18.998)">0</text><text x="349.08" y="248.70" text-anchor="middle" transform="matrix(1,0,0,1.08,0,-19.896)">1</text><text x="310.00" y="208.62" text-anchor="end" transform="matrix(1,0,0,1.08,0,-16.689)">1</text><text x="379.79" y="248.70" text-anchor="middle" transform="matrix(1,0,0,1.08,0,-19.896)">2</text><text x="310.00" y="179.76" text-anchor="end" transform="matrix(1,0,0,1.08,0,-14.381)">2</text><text x="410.50" y="248.70" text-anchor="middle" transform="matrix(1,0,0,1.08,0,-19.896)">3</text><text x="310.00" y="150.90" text-anchor="end" transform="matrix(1,0,0,1.08,0,-12.072)">3</text><text x="313.80" y="156.30" text-anchor="start" transform="matrix(1,0,0,1.08,0,-12.504)">FB</text><text x="396.30" y="239.20" text-anchor="start" transform="matrix(1,0,0,1.08,0,-19.136)">MM</text></g>
<g font-family="Liberation Serif, serif" text-rendering="geometricPrecision" font-weight="bold" font-size="7" fill="#111"><text x="361.80" y="144.30" text-anchor="middle" transform="matrix(1,0,0,1.08,0,-11.544)"><tspan>Left kidney D</tspan><tspan font-size="5" dy="2.0">mean</tspan><tspan dy="-2.0"></tspan><tspan> (Gy)</tspan></text></g>
<polygon points="430.5,242.4 529.6,149.9 430.5,149.9" fill="#d9d9d9"/>
<path d="M439.51,242.4v-2M439.51,149.9v2M430.5,234.76h2M529.6,234.76h-2M448.52,242.4v-2M448.52,149.9v2M430.5,226.28h2M529.6,226.28h-2M457.53,242.4v-2M457.53,149.9v2M430.5,217.79h2M529.6,217.79h-2M466.54,242.4v-2M466.54,149.9v2M430.5,209.30h2M529.6,209.30h-2M475.55,242.4v-2M475.55,149.9v2M430.5,200.82h2M529.6,200.82h-2M484.55,242.4v-2M484.55,149.9v2M430.5,192.33h2M529.6,192.33h-2M493.56,242.4v-2M493.56,149.9v2M430.5,183.84h2M529.6,183.84h-2M502.57,242.4v-2M502.57,149.9v2M430.5,175.36h2M529.6,175.36h-2M511.58,242.4v-2M511.58,149.9v2M430.5,166.87h2M529.6,166.87h-2M520.59,242.4v-2M520.59,149.9v2M430.5,158.39h2M529.6,158.39h-2" stroke="#a0a0a0" stroke-width="0.7" fill="none"/>
<polygon points="439.40,230.15 443.65,234.40 439.40,238.65 435.15,234.40" fill="#00e6e6"/>
<polygon points="441.30,227.25 445.55,231.50 441.30,235.75 437.05,231.50" fill="#00e6e6"/>
<polygon points="454.00,216.85 458.25,221.10 454.00,225.35 449.75,221.10" fill="#00e6e6"/>
<polygon points="466.60,204.55 470.85,208.80 466.60,213.05 462.35,208.80" fill="#00e6e6"/>
<polygon points="476.40,211.55 480.65,215.80 476.40,220.05 472.15,215.80" fill="#00e6e6"/>
<polygon points="485.90,191.25 490.15,195.50 485.90,199.75 481.65,195.50" fill="#00e6e6"/>
<polygon points="521.00,167.85 525.25,172.10 521.00,176.35 516.75,172.10" fill="#00e6e6"/>
<polygon points="439.40,229.40 440.46,231.94 443.20,232.16 441.11,233.96 441.75,236.64 439.40,235.20 437.05,236.64 437.69,233.96 435.60,232.16 438.34,231.94" fill="#ff0000"/>
<polygon points="441.30,228.50 442.36,231.04 445.10,231.26 443.01,233.06 443.65,235.74 441.30,234.30 438.95,235.74 439.59,233.06 437.50,231.26 440.24,231.04" fill="#ff0000"/>
<polygon points="454.00,219.40 455.06,221.94 457.80,222.16 455.71,223.96 456.35,226.64 454.00,225.20 451.65,226.64 452.29,223.96 450.20,222.16 452.94,221.94" fill="#ff0000"/>
<polygon points="466.60,221.80 467.66,224.34 470.40,224.56 468.31,226.36 468.95,229.04 466.60,227.60 464.25,229.04 464.89,226.36 462.80,224.56 465.54,224.34" fill="#ff0000"/>
<polygon points="476.40,219.00 477.46,221.54 480.20,221.76 478.11,223.56 478.75,226.24 476.40,224.80 474.05,226.24 474.69,223.56 472.60,221.76 475.34,221.54" fill="#ff0000"/>
<polygon points="485.90,195.80 486.96,198.34 489.70,198.56 487.61,200.36 488.25,203.04 485.90,201.60 483.55,203.04 484.19,200.36 482.10,198.56 484.84,198.34" fill="#ff0000"/>
<polygon points="521.00,179.10 522.06,181.64 524.80,181.86 522.71,183.66 523.35,186.34 521.00,184.90 518.65,186.34 519.29,183.66 517.20,181.86 519.94,181.64" fill="#ff0000"/>
<rect x="430.5" y="149.9" width="99.10" height="92.50" fill="none" stroke="#8c8c8c" stroke-width="1"/>
<g font-family="Liberation Serif, serif" text-rendering="geometricPrecision" font-weight="bold" font-size="7" fill="#111"><text x="439.51" y="249.10" text-anchor="middle" transform="matrix(1,0,0,1.08,0,-19.928)">0</text><text x="429.20" y="237.16" text-anchor="end" transform="matrix(1,0,0,1.08,0,-18.973)">0</text><text x="457.53" y="249.10" text-anchor="middle" transform="matrix(1,0,0,1.08,0,-19.928)">2</text><text x="429.20" y="220.19" text-anchor="end" transform="matrix(1,0,0,1.08,0,-17.615)">2</text><text x="475.55" y="249.10" text-anchor="middle" transform="matrix(1,0,0,1.08,0,-19.928)">4</text><text x="429.20" y="203.22" text-anchor="end" transform="matrix(1,0,0,1.08,0,-16.257)">4</text><text x="493.56" y="249.10" text-anchor="middle" transform="matrix(1,0,0,1.08,0,-19.928)">6</text><text x="429.20" y="186.24" text-anchor="end" transform="matrix(1,0,0,1.08,0,-14.900)">6</text><text x="511.58" y="249.10" text-anchor="middle" transform="matrix(1,0,0,1.08,0,-19.928)">8</text><text x="429.20" y="169.27" text-anchor="end" transform="matrix(1,0,0,1.08,0,-13.542)">8</text><text x="529.60" y="249.10" text-anchor="middle" transform="matrix(1,0,0,1.08,0,-19.928)">10</text><text x="429.20" y="152.30" text-anchor="end" transform="matrix(1,0,0,1.08,0,-12.184)">10</text><text x="433.00" y="157.70" text-anchor="start" transform="matrix(1,0,0,1.08,0,-12.616)">FB</text><text x="515.40" y="239.60" text-anchor="start" transform="matrix(1,0,0,1.08,0,-19.168)">MM</text></g>
<g font-family="Liberation Serif, serif" text-rendering="geometricPrecision" font-weight="bold" font-size="7" fill="#111"><text x="480.95" y="145.70" text-anchor="middle" transform="matrix(1,0,0,1.08,0,-11.656)"><tspan>Right kidney D</tspan><tspan font-size="5" dy="2.0">mean</tspan><tspan dy="-2.0"></tspan><tspan> (Gy)</tspan></text></g>
<polygon points="49.5,412.4 149.5,311.9 49.5,311.9" fill="#d9d9d9"/>
<path d="M59.50,412.4v-2M59.50,311.9v2M49.5,402.35h2M149.5,402.35h-2M69.50,412.4v-2M69.50,311.9v2M49.5,392.30h2M149.5,392.30h-2M79.50,412.4v-2M79.50,311.9v2M49.5,382.25h2M149.5,382.25h-2M89.50,412.4v-2M89.50,311.9v2M49.5,372.20h2M149.5,372.20h-2M99.50,412.4v-2M99.50,311.9v2M49.5,362.15h2M149.5,362.15h-2M109.50,412.4v-2M109.50,311.9v2M49.5,352.10h2M149.5,352.10h-2M119.50,412.4v-2M119.50,311.9v2M49.5,342.05h2M149.5,342.05h-2M129.50,412.4v-2M129.50,311.9v2M49.5,332.00h2M149.5,332.00h-2M139.50,412.4v-2M139.50,311.9v2M49.5,321.95h2M149.5,321.95h-2" stroke="#a0a0a0" stroke-width="0.7" fill="none"/>
<polygon points="59.60,398.55 63.85,402.80 59.60,407.05 55.35,402.80" fill="#00e6e6"/>
<polygon points="63.00,394.75 67.25,399.00 63.00,403.25 58.75,399.00" fill="#00e6e6"/>
<polygon points="65.40,388.75 69.65,393.00 65.40,397.25 61.15,393.00" fill="#00e6e6"/>
<polygon points="67.70,386.45 71.95,390.70 67.70,394.95 63.45,390.70" fill="#00e6e6"/>
<polygon points="70.00,391.75 74.25,396.00 70.00,400.25 65.75,396.00" fill="#00e6e6"/>
<polygon points="77.10,375.45 81.35,379.70 77.10,383.95 72.85,379.70" fill="#00e6e6"/>
<polygon points="77.10,381.75 81.35,386.00 77.10,390.25 72.85,386.00" fill="#00e6e6"/>
<polygon points="88.30,368.45 92.55,372.70 88.30,376.95 84.05,372.70" fill="#00e6e6"/>
<polygon points="91.10,377.05 95.35,381.30 91.10,385.55 86.85,381.30" fill="#00e6e6"/>
<polygon points="99.30,379.45 103.55,383.70 99.30,387.95 95.05,383.70" fill="#00e6e6"/>
<polygon points="124.30,330.35 128.55,334.60 124.30,338.85 120.05,334.60" fill="#00e6e6"/>
<polygon points="137.40,313.55 141.65,317.80 137.40,322.05 133.15,317.80" fill="#00e6e6"/>
<polygon points="59.60,397.60 60.66,400.14 63.40,400.36 61.31,402.16 61.95,404.84 59.60,403.40 57.25,404.84 57.89,402.16 55.80,400.36 58.54,400.14" fill="#ff0000"/>
<polygon points="61.90,396.00 62.96,398.54 65.70,398.76 63.61,400.56 64.25,403.24 61.90,401.80 59.55,403.24 60.19,400.56 58.10,398.76 60.84,398.54" fill="#ff0000"/>
<polygon points="63.50,395.00 64.56,397.54 67.30,397.76 65.21,399.56 65.85,402.24 63.50,400.80 61.15,402.24 61.79,399.56 59.70,397.76 62.44,397.54" fill="#ff0000"/>
<polygon points="65.40,393.70 66.46,396.24 69.20,396.46 67.11,398.26 67.75,400.94 65.40,399.50 63.05,400.94 63.69,398.26 61.60,396.46 64.34,396.24" fill="#ff0000"/>
<polygon points="68.90,391.30 69.96,393.84 72.70,394.06 70.61,395.86 71.25,398.54 68.90,397.10 66.55,398.54 67.19,395.86 65.10,394.06 67.84,393.84" fill="#ff0000"/>
<polygon points="74.70,390.20 75.76,392.74 78.50,392.96 76.41,394.76 77.05,397.44 74.70,396.00 72.35,397.44 72.99,394.76 70.90,392.96 73.64,392.74" fill="#ff0000"/>
<polygon points="75.90,385.50 76.96,388.04 79.70,388.26 77.61,390.06 78.25,392.74 75.90,391.30 73.55,392.74 74.19,390.06 72.10,388.26 74.84,388.04" fill="#ff0000"/>
<polygon points="77.10,382.00 78.16,384.54 80.90,384.76 78.81,386.56 79.45,389.24 77.10,387.80 74.75,389.24 75.39,386.56 73.30,384.76 76.04,384.54" fill="#ff0000"/>
<polygon points="76.60,390.20 77.66,392.74 80.40,392.96 78.31,394.76 78.95,397.44 76.60,396.00 74.25,397.44 74.89,394.76 72.80,392.96 75.54,392.74" fill="#ff0000"/>
<polygon points="88.30,375.70 89.36,378.24 92.10,378.46 90.01,380.26 90.65,382.94 88.30,381.50 85.95,382.94 86.59,380.26 84.50,378.46 87.24,378.24" fill="#ff0000"/>
<polygon points="89.90,372.70 90.96,375.24 93.70,375.46 91.61,377.26 92.25,379.94 89.90,378.50 87.55,379.94 88.19,377.26 86.10,375.46 88.84,375.24" fill="#ff0000"/>
<polygon points="99.30,379.70 100.36,382.24 103.10,382.46 101.01,384.26 101.65,386.94 99.30,385.50 96.95,386.94 97.59,384.26 95.50,382.46 98.24,382.24" fill="#ff0000"/>
<polygon points="124.30,351.60 125.36,354.14 128.10,354.36 126.01,356.16 126.65,358.84 124.30,357.40 121.95,358.84 122.59,356.16 120.50,354.36 123.24,354.14" fill="#ff0000"/>
<polygon points="137.40,328.30 138.46,330.84 141.20,331.06 139.11,332.86 139.75,335.54 137.40,334.10 135.05,335.54 135.69,332.86 133.60,331.06 136.34,330.84" fill="#ff0000"/>
<rect x="49.5" y="311.9" width="100.00" height="100.50" fill="none" stroke="#8c8c8c" stroke-width="1"/>
<g font-family="Liberation Serif, serif" text-rendering="geometricPrecision" font-weight="bold" font-size="7" fill="#111"><text x="59.50" y="419.10" text-anchor="middle" transform="matrix(1,0,0,1.08,0,-33.528)">0</text><text x="48.20" y="404.75" text-anchor="end" transform="matrix(1,0,0,1.08,0,-32.380)">0</text><text x="79.50" y="419.10" text-anchor="middle" transform="matrix(1,0,0,1.08,0,-33.528)">5</text><text x="48.20" y="384.65" text-anchor="end" transform="matrix(1,0,0,1.08,0,-30.772)">5</text><text x="99.50" y="419.10" text-anchor="middle" transform="matrix(1,0,0,1.08,0,-33.528)">10</text><text x="48.20" y="364.55" text-anchor="end" transform="matrix(1,0,0,1.08,0,-29.164)">10</text><text x="119.50" y="419.10" text-anchor="middle" transform="matrix(1,0,0,1.08,0,-33.528)">15</text><text x="48.20" y="344.45" text-anchor="end" transform="matrix(1,0,0,1.08,0,-27.556)">15</text><text x="139.50" y="419.10" text-anchor="middle" transform="matrix(1,0,0,1.08,0,-33.528)">20</text><text x="48.20" y="324.35" text-anchor="end" transform="matrix(1,0,0,1.08,0,-25.948)">20</text><text x="52.00" y="319.70" text-anchor="start" transform="matrix(1,0,0,1.08,0,-25.576)">FB</text><text x="135.30" y="409.60" text-anchor="start" transform="matrix(1,0,0,1.08,0,-32.768)">MM</text></g>
<g font-family="Liberation Serif, serif" text-rendering="geometricPrecision" font-weight="bold" font-size="7" fill="#111"><text x="100.40" y="307.70" text-anchor="middle" transform="matrix(1,0,0,1.08,0,-24.616)"><tspan>Duodenum D</tspan><tspan font-size="5" dy="2.0">mean</tspan><tspan dy="-2.0"></tspan><tspan> (Gy)</tspan></text></g>
<polygon points="169.6,412 269.3,311.3 169.6,311.3" fill="#d9d9d9"/>
<path d="M178.33,412v-2M178.33,311.3v2M169.6,402.85h2M269.3,402.85h-2M187.43,412v-2M187.43,311.3v2M169.6,393.69h2M269.3,393.69h-2M196.53,412v-2M196.53,311.3v2M169.6,384.54h2M269.3,384.54h-2M205.62,412v-2M205.62,311.3v2M169.6,375.38h2M269.3,375.38h-2M214.72,412v-2M214.72,311.3v2M169.6,366.23h2M269.3,366.23h-2M223.82,412v-2M223.82,311.3v2M169.6,357.07h2M269.3,357.07h-2M232.91,412v-2M232.91,311.3v2M169.6,347.92h2M269.3,347.92h-2M242.01,412v-2M242.01,311.3v2M169.6,338.76h2M269.3,338.76h-2M251.11,412v-2M251.11,311.3v2M169.6,329.61h2M269.3,329.61h-2M260.20,412v-2M260.20,311.3v2M169.6,320.45h2M269.3,320.45h-2" stroke="#a0a0a0" stroke-width="0.7" fill="none"/>
<polygon points="177.90,398.45 182.15,402.70 177.90,406.95 173.65,402.70" fill="#00e6e6"/>
<polygon points="181.00,396.35 185.25,400.60 181.00,404.85 176.75,400.60" fill="#00e6e6"/>
<polygon points="187.20,352.55 191.45,356.80 187.20,361.05 182.95,356.80" fill="#00e6e6"/>
<polygon points="190.30,384.95 194.55,389.20 190.30,393.45 186.05,389.20" fill="#00e6e6"/>
<polygon points="194.50,360.75 198.75,365.00 194.50,369.25 190.25,365.00" fill="#00e6e6"/>
<polygon points="200.00,386.05 204.25,390.30 200.00,394.55 195.75,390.30" fill="#00e6e6"/>
<polygon points="208.90,375.25 213.15,379.50 208.90,383.75 204.65,379.50" fill="#00e6e6"/>
<polygon points="216.20,362.85 220.45,367.10 216.20,371.35 211.95,367.10" fill="#00e6e6"/>
<polygon points="222.40,350.85 226.65,355.10 222.40,359.35 218.15,355.10" fill="#00e6e6"/>
<polygon points="230.20,337.45 234.45,341.70 230.20,345.95 225.95,341.70" fill="#00e6e6"/>
<polygon points="236.80,340.55 241.05,344.80 236.80,349.05 232.55,344.80" fill="#00e6e6"/>
<polygon points="253.40,322.95 257.65,327.20 253.40,331.45 249.15,327.20" fill="#00e6e6"/>
<polygon points="262.70,377.35 266.95,381.60 262.70,385.85 258.45,381.60" fill="#00e6e6"/>
<polygon points="177.90,398.30 178.96,400.84 181.70,401.06 179.61,402.86 180.25,405.54 177.90,404.10 175.55,405.54 176.19,402.86 174.10,401.06 176.84,400.84" fill="#ff0000"/>
<polygon points="180.60,396.60 181.66,399.14 184.40,399.36 182.31,401.16 182.95,403.84 180.60,402.40 178.25,403.84 178.89,401.16 176.80,399.36 179.54,399.14" fill="#ff0000"/>
<polygon points="183.00,394.50 184.06,397.04 186.80,397.26 184.71,399.06 185.35,401.74 183.00,400.30 180.65,401.74 181.29,399.06 179.20,397.26 181.94,397.04" fill="#ff0000"/>
<polygon points="188.30,392.50 189.36,395.04 192.10,395.26 190.01,397.06 190.65,399.74 188.30,398.30 185.95,399.74 186.59,397.06 184.50,395.26 187.24,395.04" fill="#ff0000"/>
<polygon points="190.30,384.20 191.36,386.74 194.10,386.96 192.01,388.76 192.65,391.44 190.30,390.00 187.95,391.44 188.59,388.76 186.50,386.96 189.24,386.74" fill="#ff0000"/>
<polygon points="195.10,387.90 196.16,390.44 198.90,390.66 196.81,392.46 197.45,395.14 195.10,393.70 192.75,395.14 193.39,392.46 191.30,390.66 194.04,390.44" fill="#ff0000"/>
<polygon points="197.10,391.40 198.16,393.94 200.90,394.16 198.81,395.96 199.45,398.64 197.10,397.20 194.75,398.64 195.39,395.96 193.30,394.16 196.04,393.94" fill="#ff0000"/>
<polygon points="200.70,374.90 201.76,377.44 204.50,377.66 202.41,379.46 203.05,382.14 200.70,380.70 198.35,382.14 198.99,379.46 196.90,377.66 199.64,377.44" fill="#ff0000"/>
<polygon points="201.70,376.30 202.76,378.84 205.50,379.06 203.41,380.86 204.05,383.54 201.70,382.10 199.35,383.54 199.99,380.86 197.90,379.06 200.64,378.84" fill="#ff0000"/>
<polygon points="208.90,377.60 209.96,380.14 212.70,380.36 210.61,382.16 211.25,384.84 208.90,383.40 206.55,384.84 207.19,382.16 205.10,380.36 207.84,380.14" fill="#ff0000"/>
<polygon points="213.10,365.20 214.16,367.74 216.90,367.96 214.81,369.76 215.45,372.44 213.10,371.00 210.75,372.44 211.39,369.76 209.30,367.96 212.04,367.74" fill="#ff0000"/>
<polygon points="216.20,374.30 217.26,376.84 220.00,377.06 217.91,378.86 218.55,381.54 216.20,380.10 213.85,381.54 214.49,378.86 212.40,377.06 215.14,376.84" fill="#ff0000"/>
<polygon points="216.60,398.70 217.66,401.24 220.40,401.46 218.31,403.26 218.95,405.94 216.60,404.50 214.25,405.94 214.89,403.26 212.80,401.46 215.54,401.24" fill="#ff0000"/>
<polygon points="222.40,359.00 223.46,361.54 226.20,361.76 224.11,363.56 224.75,366.24 222.40,364.80 220.05,366.24 220.69,363.56 218.60,361.76 221.34,361.54" fill="#ff0000"/>
<polygon points="230.20,347.00 231.26,349.54 234.00,349.76 231.91,351.56 232.55,354.24 230.20,352.80 227.85,354.24 228.49,351.56 226.40,349.76 229.14,349.54" fill="#ff0000"/>
<polygon points="236.80,341.20 237.86,343.74 240.60,343.96 238.51,345.76 239.15,348.44 236.80,347.00 234.45,348.44 235.09,345.76 233.00,343.96 235.74,343.74" fill="#ff0000"/>
<polygon points="253.40,336.20 254.46,338.74 257.20,338.96 255.11,340.76 255.75,343.44 253.40,342.00 251.05,343.44 251.69,340.76 249.60,338.96 252.34,338.74" fill="#ff0000"/>
<polygon points="262.70,355.70 263.76,358.24 266.50,358.46 264.41,360.26 265.05,362.94 262.70,361.50 260.35,362.94 260.99,360.26 258.90,358.46 261.64,358.24" fill="#ff0000"/>
<rect x="169.6" y="311.3" width="99.70" height="100.70" fill="none" stroke="#8c8c8c" stroke-width="1"/>
<g font-family="Liberation Serif, serif" text-rendering="geometricPrecision" font-weight="bold" font-size="7" fill="#111"><text x="178.33" y="418.70" text-anchor="middle" transform="matrix(1,0,0,1.08,0,-33.496)">0</text><text x="168.30" y="405.25" text-anchor="end" transform="matrix(1,0,0,1.08,0,-32.420)">0</text><text x="196.53" y="418.70" text-anchor="middle" transform="matrix(1,0,0,1.08,0,-33.496)">10</text><text x="168.30" y="386.94" text-anchor="end" transform="matrix(1,0,0,1.08,0,-30.955)">10</text><text x="214.72" y="418.70" text-anchor="middle" transform="matrix(1,0,0,1.08,0,-33.496)">20</text><text x="168.30" y="368.63" text-anchor="end" transform="matrix(1,0,0,1.08,0,-29.490)">20</text><text x="232.91" y="418.70" text-anchor="middle" transform="matrix(1,0,0,1.08,0,-33.496)">30</text><text x="168.30" y="350.32" text-anchor="end" transform="matrix(1,0,0,1.08,0,-28.025)">30</text><text x="251.11" y="418.70" text-anchor="middle" transform="matrix(1,0,0,1.08,0,-33.496)">40</text><text x="168.30" y="332.01" text-anchor="end" transform="matrix(1,0,0,1.08,0,-26.561)">40</text><text x="269.30" y="418.70" text-anchor="middle" transform="matrix(1,0,0,1.08,0,-33.496)">50</text><text x="168.30" y="313.70" text-anchor="end" transform="matrix(1,0,0,1.08,0,-25.096)">50</text><text x="172.10" y="319.10" text-anchor="start" transform="matrix(1,0,0,1.08,0,-25.528)">FB</text><text x="255.10" y="409.20" text-anchor="start" transform="matrix(1,0,0,1.08,0,-32.736)">MM</text></g>
<g font-family="Liberation Serif, serif" text-rendering="geometricPrecision" font-weight="bold" font-size="7" fill="#111"><text x="220.35" y="307.10" text-anchor="middle" transform="matrix(1,0,0,1.08,0,-24.568)"><tspan>Duodenum D</tspan><tspan font-size="5" dy="2.0">0.5cc</tspan><tspan dy="-2.0"></tspan><tspan> (Gy)</tspan></text></g>
<polygon points="310.6,412.6 410.7,312.3 310.6,312.3" fill="#d9d9d9"/>
<path d="M323.07,412.6v-2M323.07,312.3v2M310.6,400.11h2M410.7,400.11h-2M335.53,412.6v-2M335.53,312.3v2M310.6,387.62h2M410.7,387.62h-2M348.00,412.6v-2M348.00,312.3v2M310.6,375.13h2M410.7,375.13h-2M360.46,412.6v-2M360.46,312.3v2M310.6,362.64h2M410.7,362.64h-2M372.93,412.6v-2M372.93,312.3v2M310.6,350.15h2M410.7,350.15h-2M385.39,412.6v-2M385.39,312.3v2M310.6,337.66h2M410.7,337.66h-2M397.86,412.6v-2M397.86,312.3v2M310.6,325.17h2M410.7,325.17h-2" stroke="#a0a0a0" stroke-width="0.7" fill="none"/>
<polygon points="323.40,394.75 327.65,399.00 323.40,403.25 319.15,399.00" fill="#00e6e6"/>
<polygon points="326.50,391.15 330.75,395.40 326.50,399.65 322.25,395.40" fill="#00e6e6"/>
<polygon points="340.00,381.85 344.25,386.10 340.00,390.35 335.75,386.10" fill="#00e6e6"/>
<polygon points="342.00,383.75 346.25,388.00 342.00,392.25 337.75,388.00" fill="#00e6e6"/>
<polygon points="352.40,373.25 356.65,377.50 352.40,381.75 348.15,377.50" fill="#00e6e6"/>
<polygon points="367.30,362.25 371.55,366.50 367.30,370.75 363.05,366.50" fill="#00e6e6"/>
<polygon points="379.30,339.05 383.55,343.30 379.30,347.55 375.05,343.30" fill="#00e6e6"/>
<polygon points="323.40,396.20 324.46,398.74 327.20,398.96 325.11,400.76 325.75,403.44 323.40,402.00 321.05,403.44 321.69,400.76 319.60,398.96 322.34,398.74" fill="#ff0000"/>
<polygon points="325.50,393.50 326.56,396.04 329.30,396.26 327.21,398.06 327.85,400.74 325.50,399.30 323.15,400.74 323.79,398.06 321.70,396.26 324.44,396.04" fill="#ff0000"/>
<polygon points="327.60,391.40 328.66,393.94 331.40,394.16 329.31,395.96 329.95,398.64 327.60,397.20 325.25,398.64 325.89,395.96 323.80,394.16 326.54,393.94" fill="#ff0000"/>
<polygon points="340.00,383.20 341.06,385.74 343.80,385.96 341.71,387.76 342.35,390.44 340.00,389.00 337.65,390.44 338.29,387.76 336.20,385.96 338.94,385.74" fill="#ff0000"/>
<polygon points="342.00,384.20 343.06,386.74 345.80,386.96 343.71,388.76 344.35,391.44 342.00,390.00 339.65,391.44 340.29,388.76 338.20,386.96 340.94,386.74" fill="#ff0000"/>
<polygon points="352.40,380.10 353.46,382.64 356.20,382.86 354.11,384.66 354.75,387.34 352.40,385.90 350.05,387.34 350.69,384.66 348.60,382.86 351.34,382.64" fill="#ff0000"/>
<polygon points="367.30,368.70 368.36,371.24 371.10,371.46 369.01,373.26 369.65,375.94 367.30,374.50 364.95,375.94 365.59,373.26 363.50,371.46 366.24,371.24" fill="#ff0000"/>
<polygon points="379.30,371.80 380.36,374.34 383.10,374.56 381.01,376.36 381.65,379.04 379.30,377.60 376.95,379.04 377.59,376.36 375.50,374.56 378.24,374.34" fill="#ff0000"/>
<rect x="310.6" y="312.3" width="100.10" height="100.30" fill="none" stroke="#8c8c8c" stroke-width="1"/>
<g font-family="Liberation Serif, serif" text-rendering="geometricPrecision" font-weight="bold" font-size="7" fill="#111"><text x="323.07" y="419.30" text-anchor="middle" transform="matrix(1,0,0,1.08,0,-33.544)">0</text><text x="309.30" y="402.51" text-anchor="end" transform="matrix(1,0,0,1.08,0,-32.201)">0</text><text x="348.00" y="419.30" text-anchor="middle" transform="matrix(1,0,0,1.08,0,-33.544)">2</text><text x="309.30" y="377.53" text-anchor="end" transform="matrix(1,0,0,1.08,0,-30.202)">2</text><text x="372.93" y="419.30" text-anchor="middle" transform="matrix(1,0,0,1.08,0,-33.544)">4</text><text x="309.30" y="352.55" text-anchor="end" transform="matrix(1,0,0,1.08,0,-28.204)">4</text><text x="397.86" y="419.30" text-anchor="middle" transform="matrix(1,0,0,1.08,0,-33.544)">6</text><text x="309.30" y="327.57" text-anchor="end" transform="matrix(1,0,0,1.08,0,-26.205)">6</text><text x="313.10" y="320.10" text-anchor="start" transform="matrix(1,0,0,1.08,0,-25.608)">FB</text><text x="396.50" y="409.80" text-anchor="start" transform="matrix(1,0,0,1.08,0,-32.784)">MM</text></g>
<g font-family="Liberation Serif, serif" text-rendering="geometricPrecision" font-weight="bold" font-size="7" fill="#111"><text x="361.55" y="308.10" text-anchor="middle" transform="matrix(1,0,0,1.08,0,-24.648)"><tspan>Duodenum D</tspan><tspan font-size="5" dy="2.0">mean</tspan><tspan dy="-2.0"></tspan><tspan> (Gy)</tspan></text></g>
<polygon points="429.6,410.2 529.2,312.2 429.6,312.2" fill="#d9d9d9"/>
<path d="M436.91,410.2v-2M436.91,312.2v2M429.6,402.45h2M529.2,402.45h-2M444.60,410.2v-2M444.60,312.2v2M429.6,394.93h2M529.2,394.93h-2M452.29,410.2v-2M452.29,312.2v2M429.6,387.41h2M529.2,387.41h-2M459.98,410.2v-2M459.98,312.2v2M429.6,379.89h2M529.2,379.89h-2M467.67,410.2v-2M467.67,312.2v2M429.6,372.37h2M529.2,372.37h-2M475.36,410.2v-2M475.36,312.2v2M429.6,364.85h2M529.2,364.85h-2M483.05,410.2v-2M483.05,312.2v2M429.6,357.33h2M529.2,357.33h-2M490.74,410.2v-2M490.74,312.2v2M429.6,349.81h2M529.2,349.81h-2M498.44,410.2v-2M498.44,312.2v2M429.6,342.28h2M529.2,342.28h-2M506.13,410.2v-2M506.13,312.2v2M429.6,334.76h2M529.2,334.76h-2M513.82,410.2v-2M513.82,312.2v2M429.6,327.24h2M529.2,327.24h-2M521.51,410.2v-2M521.51,312.2v2M429.6,319.72h2M529.2,319.72h-2" stroke="#a0a0a0" stroke-width="0.7" fill="none"/>
<polygon points="437.20,398.45 441.45,402.70 437.20,406.95 432.95,402.70" fill="#00e6e6"/>
<polygon points="440.30,395.95 444.55,400.20 440.30,404.45 436.05,400.20" fill="#00e6e6"/>
<polygon points="442.40,393.25 446.65,397.50 442.40,401.75 438.15,397.50" fill="#00e6e6"/>
<polygon points="462.00,375.25 466.25,379.50 462.00,383.75 457.75,379.50" fill="#00e6e6"/>
<polygon points="476.50,382.95 480.75,387.20 476.50,391.45 472.25,387.20" fill="#00e6e6"/>
<polygon points="485.80,348.75 490.05,353.00 485.80,357.25 481.55,353.00" fill="#00e6e6"/>
<polygon points="501.30,351.45 505.55,355.70 501.30,359.95 497.05,355.70" fill="#00e6e6"/>
<polygon points="515.80,322.95 520.05,327.20 515.80,331.45 511.55,327.20" fill="#00e6e6"/>
<polygon points="437.20,398.30 438.26,400.84 441.00,401.06 438.91,402.86 439.55,405.54 437.20,404.10 434.85,405.54 435.49,402.86 433.40,401.06 436.14,400.84" fill="#ff0000"/>
<polygon points="439.30,397.20 440.36,399.74 443.10,399.96 441.01,401.76 441.65,404.44 439.30,403.00 436.95,404.44 437.59,401.76 435.50,399.96 438.24,399.74" fill="#ff0000"/>
<polygon points="441.40,396.60 442.46,399.14 445.20,399.36 443.11,401.16 443.75,403.84 441.40,402.40 439.05,403.84 439.69,401.16 437.60,399.36 440.34,399.14" fill="#ff0000"/>
<polygon points="442.40,395.00 443.46,397.54 446.20,397.76 444.11,399.56 444.75,402.24 442.40,400.80 440.05,402.24 440.69,399.56 438.60,397.76 441.34,397.54" fill="#ff0000"/>
<polygon points="462.00,369.70 463.06,372.24 465.80,372.46 463.71,374.26 464.35,376.94 462.00,375.50 459.65,376.94 460.29,374.26 458.20,372.46 460.94,372.24" fill="#ff0000"/>
<polygon points="476.50,385.20 477.56,387.74 480.30,387.96 478.21,389.76 478.85,392.44 476.50,391.00 474.15,392.44 474.79,389.76 472.70,387.96 475.44,387.74" fill="#ff0000"/>
<polygon points="485.80,352.80 486.86,355.34 489.60,355.56 487.51,357.36 488.15,360.04 485.80,358.60 483.45,360.04 484.09,357.36 482.00,355.56 484.74,355.34" fill="#ff0000"/>
<polygon points="501.30,355.30 502.36,357.84 505.10,358.06 503.01,359.86 503.65,362.54 501.30,361.10 498.95,362.54 499.59,359.86 497.50,358.06 500.24,357.84" fill="#ff0000"/>
<polygon points="515.80,347.60 516.86,350.14 519.60,350.36 517.51,352.16 518.15,354.84 515.80,353.40 513.45,354.84 514.09,352.16 512.00,350.36 514.74,350.14" fill="#ff0000"/>
<rect x="429.6" y="312.2" width="99.60" height="98.00" fill="none" stroke="#8c8c8c" stroke-width="1"/>
<g font-family="Liberation Serif, serif" text-rendering="geometricPrecision" font-weight="bold" font-size="7" fill="#111"><text x="436.91" y="416.90" text-anchor="middle" transform="matrix(1,0,0,1.08,0,-33.352)">0</text><text x="428.30" y="404.85" text-anchor="end" transform="matrix(1,0,0,1.08,0,-32.388)">0</text><text x="452.29" y="416.90" text-anchor="middle" transform="matrix(1,0,0,1.08,0,-33.352)">4</text><text x="428.30" y="389.81" text-anchor="end" transform="matrix(1,0,0,1.08,0,-31.185)">4</text><text x="467.67" y="416.90" text-anchor="middle" transform="matrix(1,0,0,1.08,0,-33.352)">8</text><text x="428.30" y="374.77" text-anchor="end" transform="matrix(1,0,0,1.08,0,-29.982)">8</text><text x="483.05" y="416.90" text-anchor="middle" transform="matrix(1,0,0,1.08,0,-33.352)">12</text><text x="428.30" y="359.73" text-anchor="end" transform="matrix(1,0,0,1.08,0,-28.778)">12</text><text x="498.44" y="416.90" text-anchor="middle" transform="matrix(1,0,0,1.08,0,-33.352)">16</text><text x="428.30" y="344.68" text-anchor="end" transform="matrix(1,0,0,1.08,0,-27.575)">16</text><text x="513.82" y="416.90" text-anchor="middle" transform="matrix(1,0,0,1.08,0,-33.352)">20</text><text x="428.30" y="329.64" text-anchor="end" transform="matrix(1,0,0,1.08,0,-26.371)">20</text><text x="529.20" y="416.90" text-anchor="middle" transform="matrix(1,0,0,1.08,0,-33.352)">24</text><text x="428.30" y="314.60" text-anchor="end" transform="matrix(1,0,0,1.08,0,-25.168)">24</text><text x="432.10" y="320.00" text-anchor="start" transform="matrix(1,0,0,1.08,0,-25.600)">FB</text><text x="515.00" y="407.40" text-anchor="start" transform="matrix(1,0,0,1.08,0,-32.592)">MM</text></g>
<g font-family="Liberation Serif, serif" text-rendering="geometricPrecision" font-weight="bold" font-size="7" fill="#111"><text x="480.30" y="308.00" text-anchor="middle" transform="matrix(1,0,0,1.08,0,-24.640)"><tspan>Duodenum D</tspan><tspan font-size="5" dy="2.0">0.5cc</tspan><tspan dy="-2.0"></tspan><tspan> (Gy)</tspan></text></g>
<polygon points="49.6,533.1 149.8,432.6 49.6,432.6" fill="#d9d9d9"/>
<path d="M57.77,533.1v-2M57.77,432.6v2M49.6,524.66h2M149.8,524.66h-2M66.11,533.1v-2M66.11,432.6v2M49.6,516.38h2M149.8,516.38h-2M74.44,533.1v-2M74.44,432.6v2M49.6,508.10h2M149.8,508.10h-2M82.78,533.1v-2M82.78,432.6v2M49.6,499.82h2M149.8,499.82h-2M91.11,533.1v-2M91.11,432.6v2M49.6,491.54h2M149.8,491.54h-2M99.45,533.1v-2M99.45,432.6v2M49.6,483.26h2M149.8,483.26h-2M107.79,533.1v-2M107.79,432.6v2M49.6,474.99h2M149.8,474.99h-2M116.12,533.1v-2M116.12,432.6v2M49.6,466.71h2M149.8,466.71h-2M124.46,533.1v-2M124.46,432.6v2M49.6,458.43h2M149.8,458.43h-2M132.79,533.1v-2M132.79,432.6v2M49.6,450.15h2M149.8,450.15h-2M141.13,533.1v-2M141.13,432.6v2M49.6,441.87h2M149.8,441.87h-2M49.6,433.59h2M149.8,433.59h-2" stroke="#a0a0a0" stroke-width="0.7" fill="none"/>
<polygon points="57.80,520.95 62.05,525.20 57.80,529.45 53.55,525.20" fill="#00e6e6"/>
<polygon points="59.90,515.15 64.15,519.40 59.90,523.65 55.65,519.40" fill="#00e6e6"/>
<polygon points="62.90,514.15 67.15,518.40 62.90,522.65 58.65,518.40" fill="#00e6e6"/>
<polygon points="64.60,506.65 68.85,510.90 64.60,515.15 60.35,510.90" fill="#00e6e6"/>
<polygon points="67.40,510.05 71.65,514.30 67.40,518.55 63.15,514.30" fill="#00e6e6"/>
<polygon points="72.70,516.25 76.95,520.50 72.70,524.75 68.45,520.50" fill="#00e6e6"/>
<polygon points="75.20,507.05 79.45,511.30 75.20,515.55 70.95,511.30" fill="#00e6e6"/>
<polygon points="81.30,498.85 85.55,503.10 81.30,507.35 77.05,503.10" fill="#00e6e6"/>
<polygon points="91.50,491.75 95.75,496.00 91.50,500.25 87.25,496.00" fill="#00e6e6"/>
<polygon points="93.60,485.55 97.85,489.80 93.60,494.05 89.35,489.80" fill="#00e6e6"/>
<polygon points="98.70,472.25 102.95,476.50 98.70,480.75 94.45,476.50" fill="#00e6e6"/>
<polygon points="99.70,495.75 103.95,500.00 99.70,504.25 95.45,500.00" fill="#00e6e6"/>
<polygon points="103.80,471.85 108.05,476.10 103.80,480.35 99.55,476.10" fill="#00e6e6"/>
<polygon points="115.00,500.45 119.25,504.70 115.00,508.95 110.75,504.70" fill="#00e6e6"/>
<polygon points="129.30,486.55 133.55,490.80 129.30,495.05 125.05,490.80" fill="#00e6e6"/>
<polygon points="138.50,437.95 142.75,442.20 138.50,446.45 134.25,442.20" fill="#00e6e6"/>
<polygon points="57.20,520.60 58.26,523.14 61.00,523.36 58.91,525.16 59.55,527.84 57.20,526.40 54.85,527.84 55.49,525.16 53.40,523.36 56.14,523.14" fill="#ff0000"/>
<polygon points="59.90,518.50 60.96,521.04 63.70,521.26 61.61,523.06 62.25,525.74 59.90,524.30 57.55,525.74 58.19,523.06 56.10,521.26 58.84,521.04" fill="#ff0000"/>
<polygon points="61.90,517.50 62.96,520.04 65.70,520.26 63.61,522.06 64.25,524.74 61.90,523.30 59.55,524.74 60.19,522.06 58.10,520.26 60.84,520.04" fill="#ff0000"/>
<polygon points="63.90,514.40 64.96,516.94 67.70,517.16 65.61,518.96 66.25,521.64 63.90,520.20 61.55,521.64 62.19,518.96 60.10,517.16 62.84,516.94" fill="#ff0000"/>
<polygon points="66.00,512.40 67.06,514.94 69.80,515.16 67.71,516.96 68.35,519.64 66.00,518.20 63.65,519.64 64.29,516.96 62.20,515.16 64.94,514.94" fill="#ff0000"/>
<polygon points="68.00,514.40 69.06,516.94 71.80,517.16 69.71,518.96 70.35,521.64 68.00,520.20 65.65,521.64 66.29,518.96 64.20,517.16 66.94,516.94" fill="#ff0000"/>
<polygon points="70.10,510.30 71.16,512.84 73.90,513.06 71.81,514.86 72.45,517.54 70.10,516.10 67.75,517.54 68.39,514.86 66.30,513.06 69.04,512.84" fill="#ff0000"/>
<polygon points="72.10,511.40 73.16,513.94 75.90,514.16 73.81,515.96 74.45,518.64 72.10,517.20 69.75,518.64 70.39,515.96 68.30,514.16 71.04,513.94" fill="#ff0000"/>
<polygon points="74.20,509.30 75.26,511.84 78.00,512.06 75.91,513.86 76.55,516.54 74.20,515.10 71.85,516.54 72.49,513.86 70.40,512.06 73.14,511.84" fill="#ff0000"/>
<polygon points="75.20,508.30 76.26,510.84 79.00,511.06 76.91,512.86 77.55,515.54 75.20,514.10 72.85,515.54 73.49,512.86 71.40,511.06 74.14,510.84" fill="#ff0000"/>
<polygon points="81.30,505.20 82.36,507.74 85.10,507.96 83.01,509.76 83.65,512.44 81.30,511.00 78.95,512.44 79.59,509.76 77.50,507.96 80.24,507.74" fill="#ff0000"/>
<polygon points="91.50,496.00 92.56,498.54 95.30,498.76 93.21,500.56 93.85,503.24 91.50,501.80 89.15,503.24 89.79,500.56 87.70,498.76 90.44,498.54" fill="#ff0000"/>
<polygon points="94.00,496.60 95.06,499.14 97.80,499.36 95.71,501.16 96.35,503.84 94.00,502.40 91.65,503.84 92.29,501.16 90.20,499.36 92.94,499.14" fill="#ff0000"/>
<polygon points="98.70,485.80 99.76,488.34 102.50,488.56 100.41,490.36 101.05,493.04 98.70,491.60 96.35,493.04 96.99,490.36 94.90,488.56 97.64,488.34" fill="#ff0000"/>
<polygon points="98.70,490.90 99.76,493.44 102.50,493.66 100.41,495.46 101.05,498.14 98.70,496.70 96.35,498.14 96.99,495.46 94.90,493.66 97.64,493.44" fill="#ff0000"/>
<polygon points="103.80,486.80 104.86,489.34 107.60,489.56 105.51,491.36 106.15,494.04 103.80,492.60 101.45,494.04 102.09,491.36 100.00,489.56 102.74,489.34" fill="#ff0000"/>
<polygon points="114.40,504.80 115.46,507.34 118.20,507.56 116.11,509.36 116.75,512.04 114.40,510.60 112.05,512.04 112.69,509.36 110.60,507.56 113.34,507.34" fill="#ff0000"/>
<polygon points="129.30,486.40 130.36,488.94 133.10,489.16 131.01,490.96 131.65,493.64 129.30,492.20 126.95,493.64 127.59,490.96 125.50,489.16 128.24,488.94" fill="#ff0000"/>
<polygon points="138.50,461.70 139.56,464.24 142.30,464.46 140.21,466.26 140.85,468.94 138.50,467.50 136.15,468.94 136.79,466.26 134.70,464.46 137.44,464.24" fill="#ff0000"/>
<rect x="49.6" y="432.6" width="100.20" height="100.50" fill="none" stroke="#8c8c8c" stroke-width="1"/>
<g font-family="Liberation Serif, serif" text-rendering="geometricPrecision" font-weight="bold" font-size="7" fill="#111"><text x="57.77" y="539.80" text-anchor="middle" transform="matrix(1,0,0,1.08,0,-43.184)">0</text><text x="48.30" y="527.06" text-anchor="end" transform="matrix(1,0,0,1.08,0,-42.164)">0</text><text x="74.44" y="539.80" text-anchor="middle" transform="matrix(1,0,0,1.08,0,-43.184)">10</text><text x="48.30" y="510.50" text-anchor="end" transform="matrix(1,0,0,1.08,0,-40.840)">10</text><text x="91.11" y="539.80" text-anchor="middle" transform="matrix(1,0,0,1.08,0,-43.184)">20</text><text x="48.30" y="493.94" text-anchor="end" transform="matrix(1,0,0,1.08,0,-39.515)">20</text><text x="107.79" y="539.80" text-anchor="middle" transform="matrix(1,0,0,1.08,0,-43.184)">30</text><text x="48.30" y="477.39" text-anchor="end" transform="matrix(1,0,0,1.08,0,-38.191)">30</text><text x="124.46" y="539.80" text-anchor="middle" transform="matrix(1,0,0,1.08,0,-43.184)">40</text><text x="48.30" y="460.83" text-anchor="end" transform="matrix(1,0,0,1.08,0,-36.866)">40</text><text x="141.13" y="539.80" text-anchor="middle" transform="matrix(1,0,0,1.08,0,-43.184)">50</text><text x="48.30" y="444.27" text-anchor="end" transform="matrix(1,0,0,1.08,0,-35.542)">50</text><text x="52.10" y="440.40" text-anchor="start" transform="matrix(1,0,0,1.08,0,-35.232)">FB</text><text x="135.60" y="530.30" text-anchor="start" transform="matrix(1,0,0,1.08,0,-42.424)">MM</text></g>
<g font-family="Liberation Serif, serif" text-rendering="geometricPrecision" font-weight="bold" font-size="7" fill="#111"><text x="100.60" y="428.40" text-anchor="middle" transform="matrix(1,0,0,1.08,0,-34.272)"><tspan>Intestine D</tspan><tspan font-size="5" dy="2.0">0.5cc</tspan><tspan dy="-2.0"></tspan><tspan> (Gy)</tspan></text></g>
<polygon points="169.4,532.7 269.6,431.6 169.4,431.6" fill="#d9d9d9"/>
<path d="M178.18,532.7v-2M178.18,431.6v2M169.4,523.51h2M269.6,523.51h-2M187.32,532.7v-2M187.32,431.6v2M169.4,514.32h2M269.6,514.32h-2M196.46,532.7v-2M196.46,431.6v2M169.4,505.13h2M269.6,505.13h-2M205.60,532.7v-2M205.60,431.6v2M169.4,495.94h2M269.6,495.94h-2M214.75,532.7v-2M214.75,431.6v2M169.4,486.75h2M269.6,486.75h-2M223.89,532.7v-2M223.89,431.6v2M169.4,477.55h2M269.6,477.55h-2M233.03,532.7v-2M233.03,431.6v2M169.4,468.36h2M269.6,468.36h-2M242.17,532.7v-2M242.17,431.6v2M169.4,459.17h2M269.6,459.17h-2M251.32,532.7v-2M251.32,431.6v2M169.4,449.98h2M269.6,449.98h-2M260.46,532.7v-2M260.46,431.6v2M169.4,440.79h2M269.6,440.79h-2" stroke="#a0a0a0" stroke-width="0.7" fill="none"/>
<polygon points="178.20,519.25 182.45,523.50 178.20,527.75 173.95,523.50" fill="#00e6e6"/>
<polygon points="180.70,516.25 184.95,520.50 180.70,524.75 176.45,520.50" fill="#00e6e6"/>
<polygon points="183.70,512.15 187.95,516.40 183.70,520.65 179.45,516.40" fill="#00e6e6"/>
<polygon points="186.80,509.05 191.05,513.30 186.80,517.55 182.55,513.30" fill="#00e6e6"/>
<polygon points="189.90,515.15 194.15,519.40 189.90,523.65 185.65,519.40" fill="#00e6e6"/>
<polygon points="193.90,507.05 198.15,511.30 193.90,515.55 189.65,511.30" fill="#00e6e6"/>
<polygon points="202.10,512.75 206.35,517.00 202.10,521.25 197.85,517.00" fill="#00e6e6"/>
<polygon points="201.10,498.85 205.35,503.10 201.10,507.35 196.85,503.10" fill="#00e6e6"/>
<polygon points="207.20,495.15 211.45,499.40 207.20,503.65 202.95,499.40" fill="#00e6e6"/>
<polygon points="207.20,503.95 211.45,508.20 207.20,512.45 202.95,508.20" fill="#00e6e6"/>
<polygon points="210.30,488.65 214.55,492.90 210.30,497.15 206.05,492.90" fill="#00e6e6"/>
<polygon points="213.40,501.35 217.65,505.60 213.40,509.85 209.15,505.60" fill="#00e6e6"/>
<polygon points="215.80,482.45 220.05,486.70 215.80,490.95 211.55,486.70" fill="#00e6e6"/>
<polygon points="223.20,472.65 227.45,476.90 223.20,481.15 218.95,476.90" fill="#00e6e6"/>
<polygon points="262.00,431.85 266.25,436.10 262.00,440.35 257.75,436.10" fill="#00e6e6"/>
<polygon points="177.60,519.10 178.66,521.64 181.40,521.86 179.31,523.66 179.95,526.34 177.60,524.90 175.25,526.34 175.89,523.66 173.80,521.86 176.54,521.64" fill="#ff0000"/>
<polygon points="180.20,517.50 181.26,520.04 184.00,520.26 181.91,522.06 182.55,524.74 180.20,523.30 177.85,524.74 178.49,522.06 176.40,520.26 179.14,520.04" fill="#ff0000"/>
<polygon points="182.70,516.50 183.76,519.04 186.50,519.26 184.41,521.06 185.05,523.74 182.70,522.30 180.35,523.74 180.99,521.06 178.90,519.26 181.64,519.04" fill="#ff0000"/>
<polygon points="184.70,514.40 185.76,516.94 188.50,517.16 186.41,518.96 187.05,521.64 184.70,520.20 182.35,521.64 182.99,518.96 180.90,517.16 183.64,516.94" fill="#ff0000"/>
<polygon points="186.80,512.40 187.86,514.94 190.60,515.16 188.51,516.96 189.15,519.64 186.80,518.20 184.45,519.64 185.09,516.96 183.00,515.16 185.74,514.94" fill="#ff0000"/>
<polygon points="187.80,515.40 188.86,517.94 191.60,518.16 189.51,519.96 190.15,522.64 187.80,521.20 185.45,522.64 186.09,519.96 184.00,518.16 186.74,517.94" fill="#ff0000"/>
<polygon points="190.90,514.40 191.96,516.94 194.70,517.16 192.61,518.96 193.25,521.64 190.90,520.20 188.55,521.64 189.19,518.96 187.10,517.16 189.84,516.94" fill="#ff0000"/>
<polygon points="193.90,512.40 194.96,514.94 197.70,515.16 195.61,516.96 196.25,519.64 193.90,518.20 191.55,519.64 192.19,516.96 190.10,515.16 192.84,514.94" fill="#ff0000"/>
<polygon points="201.50,503.60 202.56,506.14 205.30,506.36 203.21,508.16 203.85,510.84 201.50,509.40 199.15,510.84 199.79,508.16 197.70,506.36 200.44,506.14" fill="#ff0000"/>
<polygon points="202.10,515.40 203.16,517.94 205.90,518.16 203.81,519.96 204.45,522.64 202.10,521.20 199.75,522.64 200.39,519.96 198.30,518.16 201.04,517.94" fill="#ff0000"/>
<polygon points="208.20,498.70 209.26,501.24 212.00,501.46 209.91,503.26 210.55,505.94 208.20,504.50 205.85,505.94 206.49,503.26 204.40,501.46 207.14,501.24" fill="#ff0000"/>
<polygon points="210.30,497.10 211.36,499.64 214.10,499.86 212.01,501.66 212.65,504.34 210.30,502.90 207.95,504.34 208.59,501.66 206.50,499.86 209.24,499.64" fill="#ff0000"/>
<polygon points="212.90,504.20 213.96,506.74 216.70,506.96 214.61,508.76 215.25,511.44 212.90,510.00 210.55,511.44 211.19,508.76 209.10,506.96 211.84,506.74" fill="#ff0000"/>
<polygon points="215.80,486.80 216.86,489.34 219.60,489.56 217.51,491.36 218.15,494.04 215.80,492.60 213.45,494.04 214.09,491.36 212.00,489.56 214.74,489.34" fill="#ff0000"/>
<polygon points="223.20,488.90 224.26,491.44 227.00,491.66 224.91,493.46 225.55,496.14 223.20,494.70 220.85,496.14 221.49,493.46 219.40,491.66 222.14,491.44" fill="#ff0000"/>
<polygon points="262.00,472.90 263.06,475.44 265.80,475.66 263.71,477.46 264.35,480.14 262.00,478.70 259.65,480.14 260.29,477.46 258.20,475.66 260.94,475.44" fill="#ff0000"/>
<rect x="169.4" y="431.6" width="100.20" height="101.10" fill="none" stroke="#8c8c8c" stroke-width="1"/>
<g font-family="Liberation Serif, serif" text-rendering="geometricPrecision" font-weight="bold" font-size="7" fill="#111"><text x="178.18" y="539.40" text-anchor="middle" transform="matrix(1,0,0,1.08,0,-43.152)">0</text><text x="168.10" y="525.91" text-anchor="end" transform="matrix(1,0,0,1.08,0,-42.073)">0</text><text x="196.46" y="539.40" text-anchor="middle" transform="matrix(1,0,0,1.08,0,-43.152)">10</text><text x="168.10" y="507.53" text-anchor="end" transform="matrix(1,0,0,1.08,0,-40.602)">10</text><text x="214.75" y="539.40" text-anchor="middle" transform="matrix(1,0,0,1.08,0,-43.152)">20</text><text x="168.10" y="489.15" text-anchor="end" transform="matrix(1,0,0,1.08,0,-39.132)">20</text><text x="233.03" y="539.40" text-anchor="middle" transform="matrix(1,0,0,1.08,0,-43.152)">30</text><text x="168.10" y="470.76" text-anchor="end" transform="matrix(1,0,0,1.08,0,-37.661)">30</text><text x="251.32" y="539.40" text-anchor="middle" transform="matrix(1,0,0,1.08,0,-43.152)">40</text><text x="168.10" y="452.38" text-anchor="end" transform="matrix(1,0,0,1.08,0,-36.191)">40</text><text x="269.60" y="539.40" text-anchor="middle" transform="matrix(1,0,0,1.08,0,-43.152)">50</text><text x="168.10" y="434.00" text-anchor="end" transform="matrix(1,0,0,1.08,0,-34.720)">50</text><text x="171.90" y="439.40" text-anchor="start" transform="matrix(1,0,0,1.08,0,-35.152)">FB</text><text x="255.40" y="529.90" text-anchor="start" transform="matrix(1,0,0,1.08,0,-42.392)">MM</text></g>
<g font-family="Liberation Serif, serif" text-rendering="geometricPrecision" font-weight="bold" font-size="7" fill="#111"><text x="220.40" y="427.40" text-anchor="middle" transform="matrix(1,0,0,1.08,0,-34.192)"><tspan>Intestine D</tspan><tspan font-size="5" dy="2.0">5cc</tspan><tspan dy="-2.0"></tspan><tspan> (Gy)</tspan></text></g>
<polygon points="313.3,533.3 410.4,432.6 313.3,432.6" fill="#d9d9d9"/>
<path d="M317.85,533.3v-2M317.85,432.6v2M313.3,529.22h2M410.4,529.22h-2M328.21,533.3v-2M328.21,432.6v2M313.3,518.48h2M410.4,518.48h-2M338.56,533.3v-2M338.56,432.6v2M313.3,507.75h2M410.4,507.75h-2M348.91,533.3v-2M348.91,432.6v2M313.3,497.01h2M410.4,497.01h-2M359.26,533.3v-2M359.26,432.6v2M313.3,486.28h2M410.4,486.28h-2M369.61,533.3v-2M369.61,432.6v2M313.3,475.54h2M410.4,475.54h-2M379.97,533.3v-2M379.97,432.6v2M313.3,464.81h2M410.4,464.81h-2M390.32,533.3v-2M390.32,432.6v2M313.3,454.07h2M410.4,454.07h-2M400.67,533.3v-2M400.67,432.6v2M313.3,443.34h2M410.4,443.34h-2" stroke="#a0a0a0" stroke-width="0.7" fill="none"/>
<polygon points="317.80,525.45 322.05,529.70 317.80,533.95 313.55,529.70" fill="#00e6e6"/>
<polygon points="319.90,522.75 324.15,527.00 319.90,531.25 315.65,527.00" fill="#00e6e6"/>
<polygon points="321.90,520.35 326.15,524.60 321.90,528.85 317.65,524.60" fill="#00e6e6"/>
<polygon points="326.00,517.25 330.25,521.50 326.00,525.75 321.75,521.50" fill="#00e6e6"/>
<polygon points="329.00,512.75 333.25,517.00 329.00,521.25 324.75,517.00" fill="#00e6e6"/>
<polygon points="332.70,513.15 336.95,517.40 332.70,521.65 328.45,517.40" fill="#00e6e6"/>
<polygon points="347.40,497.85 351.65,502.10 347.40,506.35 343.15,502.10" fill="#00e6e6"/>
<polygon points="406.70,481.45 410.95,485.70 406.70,489.95 402.45,485.70" fill="#00e6e6"/>
<polygon points="317.80,524.60 318.86,527.14 321.60,527.36 319.51,529.16 320.15,531.84 317.80,530.40 315.45,531.84 316.09,529.16 314.00,527.36 316.74,527.14" fill="#ff0000"/>
<polygon points="320.90,523.20 321.96,525.74 324.70,525.96 322.61,527.76 323.25,530.44 320.90,529.00 318.55,530.44 319.19,527.76 317.10,525.96 319.84,525.74" fill="#ff0000"/>
<polygon points="322.90,522.60 323.96,525.14 326.70,525.36 324.61,527.16 325.25,529.84 322.90,528.40 320.55,529.84 321.19,527.16 319.10,525.36 321.84,525.14" fill="#ff0000"/>
<polygon points="325.40,521.20 326.46,523.74 329.20,523.96 327.11,525.76 327.75,528.44 325.40,527.00 323.05,528.44 323.69,525.76 321.60,523.96 324.34,523.74" fill="#ff0000"/>
<polygon points="326.60,517.50 327.66,520.04 330.40,520.26 328.31,522.06 328.95,524.74 326.60,523.30 324.25,524.74 324.89,522.06 322.80,520.26 325.54,520.04" fill="#ff0000"/>
<polygon points="329.00,514.40 330.06,516.94 332.80,517.16 330.71,518.96 331.35,521.64 329.00,520.20 326.65,521.64 327.29,518.96 325.20,517.16 327.94,516.94" fill="#ff0000"/>
<polygon points="332.10,519.10 333.16,521.64 335.90,521.86 333.81,523.66 334.45,526.34 332.10,524.90 329.75,526.34 330.39,523.66 328.30,521.86 331.04,521.64" fill="#ff0000"/>
<polygon points="347.40,505.20 348.46,507.74 351.20,507.96 349.11,509.76 349.75,512.44 347.40,511.00 345.05,512.44 345.69,509.76 343.60,507.96 346.34,507.74" fill="#ff0000"/>
<polygon points="406.70,480.70 407.76,483.24 410.50,483.46 408.41,485.26 409.05,487.94 406.70,486.50 404.35,487.94 404.99,485.26 402.90,483.46 405.64,483.24" fill="#ff0000"/>
<rect x="313.3" y="432.6" width="97.10" height="100.70" fill="none" stroke="#8c8c8c" stroke-width="1"/>
<g font-family="Liberation Serif, serif" text-rendering="geometricPrecision" font-weight="bold" font-size="7" fill="#111"><text x="317.85" y="540.00" text-anchor="middle" transform="matrix(1,0,0,1.08,0,-43.200)">0</text><text x="312.00" y="531.62" text-anchor="end" transform="matrix(1,0,0,1.08,0,-42.530)">0</text><text x="338.56" y="540.00" text-anchor="middle" transform="matrix(1,0,0,1.08,0,-43.200)">10</text><text x="312.00" y="510.15" text-anchor="end" transform="matrix(1,0,0,1.08,0,-40.812)">10</text><text x="359.26" y="540.00" text-anchor="middle" transform="matrix(1,0,0,1.08,0,-43.200)">20</text><text x="312.00" y="488.68" text-anchor="end" transform="matrix(1,0,0,1.08,0,-39.094)">20</text><text x="379.97" y="540.00" text-anchor="middle" transform="matrix(1,0,0,1.08,0,-43.200)">30</text><text x="312.00" y="467.21" text-anchor="end" transform="matrix(1,0,0,1.08,0,-37.377)">30</text><text x="400.67" y="540.00" text-anchor="middle" transform="matrix(1,0,0,1.08,0,-43.200)">40</text><text x="312.00" y="445.74" text-anchor="end" transform="matrix(1,0,0,1.08,0,-35.659)">40</text><text x="315.80" y="440.40" text-anchor="start" transform="matrix(1,0,0,1.08,0,-35.232)">FB</text><text x="396.20" y="530.50" text-anchor="start" transform="matrix(1,0,0,1.08,0,-42.440)">MM</text></g>
<g font-family="Liberation Serif, serif" text-rendering="geometricPrecision" font-weight="bold" font-size="7" fill="#111"><text x="362.75" y="428.40" text-anchor="middle" transform="matrix(1,0,0,1.08,0,-34.272)"><tspan>Intestine D</tspan><tspan font-size="5" dy="2.0">0.5cc</tspan><tspan dy="-2.0"></tspan><tspan> (Gy)</tspan></text></g>
<polygon points="429.6,532.7 529.8,432 429.6,432" fill="#d9d9d9"/>
<path d="M435.81,532.7v-2M435.81,432v2M429.6,527.31h2M529.8,527.31h-2M444.67,532.7v-2M444.67,432v2M429.6,518.31h2M529.8,518.31h-2M453.54,532.7v-2M453.54,432v2M429.6,509.32h2M529.8,509.32h-2M462.41,532.7v-2M462.41,432v2M429.6,500.33h2M529.8,500.33h-2M471.28,532.7v-2M471.28,432v2M429.6,491.34h2M529.8,491.34h-2M480.14,532.7v-2M480.14,432v2M429.6,482.35h2M529.8,482.35h-2M489.01,532.7v-2M489.01,432v2M429.6,473.36h2M529.8,473.36h-2M497.88,532.7v-2M497.88,432v2M429.6,464.37h2M529.8,464.37h-2M506.75,532.7v-2M506.75,432v2M429.6,455.38h2M529.8,455.38h-2M515.61,532.7v-2M515.61,432v2M429.6,446.39h2M529.8,446.39h-2M524.48,532.7v-2M524.48,432v2M429.6,437.39h2M529.8,437.39h-2" stroke="#a0a0a0" stroke-width="0.7" fill="none"/>
<polygon points="436.40,522.35 440.65,526.60 436.40,530.85 432.15,526.60" fill="#00e6e6"/>
<polygon points="441.90,516.25 446.15,520.50 441.90,524.75 437.65,520.50" fill="#00e6e6"/>
<polygon points="449.00,509.05 453.25,513.30 449.00,517.55 444.75,513.30" fill="#00e6e6"/>
<polygon points="458.20,500.85 462.45,505.10 458.20,509.35 453.95,505.10" fill="#00e6e6"/>
<polygon points="461.30,502.95 465.55,507.20 461.30,511.45 457.05,507.20" fill="#00e6e6"/>
<polygon points="463.40,494.75 467.65,499.00 463.40,503.25 459.15,499.00" fill="#00e6e6"/>
<polygon points="465.40,493.15 469.65,497.40 465.40,501.65 461.15,497.40" fill="#00e6e6"/>
<polygon points="510.00,458.95 514.25,463.20 510.00,467.45 505.75,463.20" fill="#00e6e6"/>
<polygon points="512.80,504.95 517.05,509.20 512.80,513.45 508.55,509.20" fill="#00e6e6"/>
<polygon points="436.40,523.20 437.46,525.74 440.20,525.96 438.11,527.76 438.75,530.44 436.40,529.00 434.05,530.44 434.69,527.76 432.60,525.96 435.34,525.74" fill="#ff0000"/>
<polygon points="442.50,519.50 443.56,522.04 446.30,522.26 444.21,524.06 444.85,526.74 442.50,525.30 440.15,526.74 440.79,524.06 438.70,522.26 441.44,522.04" fill="#ff0000"/>
<polygon points="446.00,517.50 447.06,520.04 449.80,520.26 447.71,522.06 448.35,524.74 446.00,523.30 443.65,524.74 444.29,522.06 442.20,520.26 444.94,520.04" fill="#ff0000"/>
<polygon points="449.00,517.90 450.06,520.44 452.80,520.66 450.71,522.46 451.35,525.14 449.00,523.70 446.65,525.14 447.29,522.46 445.20,520.66 447.94,520.44" fill="#ff0000"/>
<polygon points="456.80,505.60 457.86,508.14 460.60,508.36 458.51,510.16 459.15,512.84 456.80,511.40 454.45,512.84 455.09,510.16 453.00,508.36 455.74,508.14" fill="#ff0000"/>
<polygon points="458.20,513.00 459.26,515.54 462.00,515.76 459.91,517.56 460.55,520.24 458.20,518.80 455.85,520.24 456.49,517.56 454.40,515.76 457.14,515.54" fill="#ff0000"/>
<polygon points="460.30,499.50 461.36,502.04 464.10,502.26 462.01,504.06 462.65,506.74 460.30,505.30 457.95,506.74 458.59,504.06 456.50,502.26 459.24,502.04" fill="#ff0000"/>
<polygon points="463.40,513.40 464.46,515.94 467.20,516.16 465.11,517.96 465.75,520.64 463.40,519.20 461.05,520.64 461.69,517.96 459.60,516.16 462.34,515.94" fill="#ff0000"/>
<polygon points="465.00,495.40 466.06,497.94 468.80,498.16 466.71,499.96 467.35,502.64 465.00,501.20 462.65,502.64 463.29,499.96 461.20,498.16 463.94,497.94" fill="#ff0000"/>
<polygon points="510.00,470.90 511.06,473.44 513.80,473.66 511.71,475.46 512.35,478.14 510.00,476.70 507.65,478.14 508.29,475.46 506.20,473.66 508.94,473.44" fill="#ff0000"/>
<polygon points="512.80,510.30 513.86,512.84 516.60,513.06 514.51,514.86 515.15,517.54 512.80,516.10 510.45,517.54 511.09,514.86 509.00,513.06 511.74,512.84" fill="#ff0000"/>
<rect x="429.6" y="432" width="100.20" height="100.70" fill="none" stroke="#8c8c8c" stroke-width="1"/>
<g font-family="Liberation Serif, serif" text-rendering="geometricPrecision" font-weight="bold" font-size="7" fill="#111"><text x="435.81" y="539.40" text-anchor="middle" transform="matrix(1,0,0,1.08,0,-43.152)">0</text><text x="428.30" y="529.71" text-anchor="end" transform="matrix(1,0,0,1.08,0,-42.376)">0</text><text x="453.54" y="539.40" text-anchor="middle" transform="matrix(1,0,0,1.08,0,-43.152)">3</text><text x="428.30" y="511.72" text-anchor="end" transform="matrix(1,0,0,1.08,0,-40.938)">3</text><text x="471.28" y="539.40" text-anchor="middle" transform="matrix(1,0,0,1.08,0,-43.152)">6</text><text x="428.30" y="493.74" text-anchor="end" transform="matrix(1,0,0,1.08,0,-39.499)">6</text><text x="489.01" y="539.40" text-anchor="middle" transform="matrix(1,0,0,1.08,0,-43.152)">9</text><text x="428.30" y="475.76" text-anchor="end" transform="matrix(1,0,0,1.08,0,-38.061)">9</text><text x="506.75" y="539.40" text-anchor="middle" transform="matrix(1,0,0,1.08,0,-43.152)">12</text><text x="428.30" y="457.78" text-anchor="end" transform="matrix(1,0,0,1.08,0,-36.622)">12</text><text x="524.48" y="539.40" text-anchor="middle" transform="matrix(1,0,0,1.08,0,-43.152)">15</text><text x="428.30" y="439.79" text-anchor="end" transform="matrix(1,0,0,1.08,0,-35.184)">15</text><text x="432.10" y="439.80" text-anchor="start" transform="matrix(1,0,0,1.08,0,-35.184)">FB</text><text x="515.60" y="529.90" text-anchor="start" transform="matrix(1,0,0,1.08,0,-42.392)">MM</text></g>
<g font-family="Liberation Serif, serif" text-rendering="geometricPrecision" font-weight="bold" font-size="7" fill="#111"><text x="480.60" y="427.80" text-anchor="middle" transform="matrix(1,0,0,1.08,0,-34.224)"><tspan>Intestine D</tspan><tspan font-size="5" dy="2.0">5cc</tspan><tspan dy="-2.0"></tspan><tspan> (Gy)</tspan></text></g>
<polygon points="49.6,649.3 146.3,552.6 49.6,552.6" fill="#d9d9d9"/>
<path d="M57.42,649.3v-2M57.42,552.6v2M49.6,641.48h2M146.3,641.48h-2M66.31,649.3v-2M66.31,552.6v2M49.6,632.59h2M146.3,632.59h-2M75.20,649.3v-2M75.20,552.6v2M49.6,623.70h2M146.3,623.70h-2M84.08,649.3v-2M84.08,552.6v2M49.6,614.82h2M146.3,614.82h-2M92.97,649.3v-2M92.97,552.6v2M49.6,605.93h2M146.3,605.93h-2M101.86,649.3v-2M101.86,552.6v2M49.6,597.04h2M146.3,597.04h-2M110.75,649.3v-2M110.75,552.6v2M49.6,588.15h2M146.3,588.15h-2M119.64,649.3v-2M119.64,552.6v2M49.6,579.26h2M146.3,579.26h-2M128.52,649.3v-2M128.52,552.6v2M49.6,570.38h2M146.3,570.38h-2M137.41,649.3v-2M137.41,552.6v2M49.6,561.49h2M146.3,561.49h-2" stroke="#a0a0a0" stroke-width="0.7" fill="none"/>
<polygon points="57.80,635.15 62.05,639.40 57.80,643.65 53.55,639.40" fill="#00e6e6"/>
<polygon points="59.90,632.75 64.15,637.00 59.90,641.25 55.65,637.00" fill="#00e6e6"/>
<polygon points="61.90,630.75 66.15,635.00 61.90,639.25 57.65,635.00" fill="#00e6e6"/>
<polygon points="63.90,627.75 68.15,632.00 63.90,636.25 59.65,632.00" fill="#00e6e6"/>
<polygon points="71.10,624.95 75.35,629.20 71.10,633.45 66.85,629.20" fill="#00e6e6"/>
<polygon points="74.20,621.95 78.45,626.20 74.20,630.45 69.95,626.20" fill="#00e6e6"/>
<polygon points="80.30,614.35 84.55,618.60 80.30,622.85 76.05,618.60" fill="#00e6e6"/>
<polygon points="85.40,608.65 89.65,612.90 85.40,617.15 81.15,612.90" fill="#00e6e6"/>
<polygon points="87.40,602.45 91.65,606.70 87.40,610.95 83.15,606.70" fill="#00e6e6"/>
<polygon points="91.50,600.45 95.75,604.70 91.50,608.95 87.25,604.70" fill="#00e6e6"/>
<polygon points="97.30,598.05 101.55,602.30 97.30,606.55 93.05,602.30" fill="#00e6e6"/>
<polygon points="107.50,590.25 111.75,594.50 107.50,598.75 103.25,594.50" fill="#00e6e6"/>
<polygon points="130.00,567.75 134.25,572.00 130.00,576.25 125.75,572.00" fill="#00e6e6"/>
<polygon points="137.10,555.95 141.35,560.20 137.10,564.45 132.85,560.20" fill="#00e6e6"/>
<polygon points="58.80,636.50 59.86,639.04 62.60,639.26 60.51,641.06 61.15,643.74 58.80,642.30 56.45,643.74 57.09,641.06 55.00,639.26 57.74,639.04" fill="#ff0000"/>
<polygon points="60.90,634.40 61.96,636.94 64.70,637.16 62.61,638.96 63.25,641.64 60.90,640.20 58.55,641.64 59.19,638.96 57.10,637.16 59.84,636.94" fill="#ff0000"/>
<polygon points="62.90,632.40 63.96,634.94 66.70,635.16 64.61,636.96 65.25,639.64 62.90,638.20 60.55,639.64 61.19,636.96 59.10,635.16 61.84,634.94" fill="#ff0000"/>
<polygon points="63.90,629.30 64.96,631.84 67.70,632.06 65.61,633.86 66.25,636.54 63.90,635.10 61.55,636.54 62.19,633.86 60.10,632.06 62.84,631.84" fill="#ff0000"/>
<polygon points="65.90,627.00 66.96,629.54 69.70,629.76 67.61,631.56 68.25,634.24 65.90,632.80 63.55,634.24 64.19,631.56 62.10,629.76 64.84,629.54" fill="#ff0000"/>
<polygon points="72.10,629.30 73.16,631.84 75.90,632.06 73.81,633.86 74.45,636.54 72.10,635.10 69.75,636.54 70.39,633.86 68.30,632.06 71.04,631.84" fill="#ff0000"/>
<polygon points="72.70,624.80 73.76,627.34 76.50,627.56 74.41,629.36 75.05,632.04 72.70,630.60 70.35,632.04 70.99,629.36 68.90,627.56 71.64,627.34" fill="#ff0000"/>
<polygon points="81.30,616.60 82.36,619.14 85.10,619.36 83.01,621.16 83.65,623.84 81.30,622.40 78.95,623.84 79.59,621.16 77.50,619.36 80.24,619.14" fill="#ff0000"/>
<polygon points="85.40,614.60 86.46,617.14 89.20,617.36 87.11,619.16 87.75,621.84 85.40,620.40 83.05,621.84 83.69,619.16 81.60,617.36 84.34,617.14" fill="#ff0000"/>
<polygon points="85.80,608.90 86.86,611.44 89.60,611.66 87.51,613.46 88.15,616.14 85.80,614.70 83.45,616.14 84.09,613.46 82.00,611.66 84.74,611.44" fill="#ff0000"/>
<polygon points="87.00,606.50 88.06,609.04 90.80,609.26 88.71,611.06 89.35,613.74 87.00,612.30 84.65,613.74 85.29,611.06 83.20,609.26 85.94,609.04" fill="#ff0000"/>
<polygon points="92.60,607.90 93.66,610.44 96.40,610.66 94.31,612.46 94.95,615.14 92.60,613.70 90.25,615.14 90.89,612.46 88.80,610.66 91.54,610.44" fill="#ff0000"/>
<polygon points="97.30,601.10 98.36,603.64 101.10,603.86 99.01,605.66 99.65,608.34 97.30,606.90 94.95,608.34 95.59,605.66 93.50,603.86 96.24,603.64" fill="#ff0000"/>
<polygon points="105.40,597.00 106.46,599.54 109.20,599.76 107.11,601.56 107.75,604.24 105.40,602.80 103.05,604.24 103.69,601.56 101.60,599.76 104.34,599.54" fill="#ff0000"/>
<polygon points="107.90,596.20 108.96,598.74 111.70,598.96 109.61,600.76 110.25,603.44 107.90,602.00 105.55,603.44 106.19,600.76 104.10,598.96 106.84,598.74" fill="#ff0000"/>
<polygon points="130.00,579.90 131.06,582.44 133.80,582.66 131.71,584.46 132.35,587.14 130.00,585.70 127.65,587.14 128.29,584.46 126.20,582.66 128.94,582.44" fill="#ff0000"/>
<polygon points="137.10,569.00 138.16,571.54 140.90,571.76 138.81,573.56 139.45,576.24 137.10,574.80 134.75,576.24 135.39,573.56 133.30,571.76 136.04,571.54" fill="#ff0000"/>
<rect x="49.6" y="552.6" width="96.70" height="96.70" fill="none" stroke="#8c8c8c" stroke-width="1"/>
<g font-family="Liberation Serif, serif" text-rendering="geometricPrecision" font-weight="bold" font-size="7" fill="#111"><text x="57.42" y="656.00" text-anchor="middle" transform="matrix(1,0,0,1.08,0,-52.480)">0</text><text x="48.30" y="643.88" text-anchor="end" transform="matrix(1,0,0,1.08,0,-51.510)">0</text><text x="75.20" y="656.00" text-anchor="middle" transform="matrix(1,0,0,1.08,0,-52.480)">5</text><text x="48.30" y="626.10" text-anchor="end" transform="matrix(1,0,0,1.08,0,-50.088)">5</text><text x="92.97" y="656.00" text-anchor="middle" transform="matrix(1,0,0,1.08,0,-52.480)">10</text><text x="48.30" y="608.33" text-anchor="end" transform="matrix(1,0,0,1.08,0,-48.666)">10</text><text x="110.75" y="656.00" text-anchor="middle" transform="matrix(1,0,0,1.08,0,-52.480)">15</text><text x="48.30" y="590.55" text-anchor="end" transform="matrix(1,0,0,1.08,0,-47.244)">15</text><text x="128.52" y="656.00" text-anchor="middle" transform="matrix(1,0,0,1.08,0,-52.480)">20</text><text x="48.30" y="572.78" text-anchor="end" transform="matrix(1,0,0,1.08,0,-45.822)">20</text><text x="146.30" y="656.00" text-anchor="middle" transform="matrix(1,0,0,1.08,0,-52.480)">25</text><text x="48.30" y="555.00" text-anchor="end" transform="matrix(1,0,0,1.08,0,-44.400)">25</text><text x="52.10" y="560.40" text-anchor="start" transform="matrix(1,0,0,1.08,0,-44.832)">FB</text><text x="132.10" y="646.50" text-anchor="start" transform="matrix(1,0,0,1.08,0,-51.720)">MM</text></g>
<g font-family="Liberation Serif, serif" text-rendering="geometricPrecision" font-weight="bold" font-size="7" fill="#111"><text x="98.85" y="548.40" text-anchor="middle" transform="matrix(1,0,0,1.08,0,-43.872)"><tspan>Stomach D</tspan><tspan font-size="5" dy="2.0">mean</tspan><tspan dy="-2.0"></tspan><tspan> (Gy)</tspan></text></g>
<polygon points="169.4,649.3 269.6,552.6 169.4,552.6" fill="#d9d9d9"/>
<path d="M176.53,649.3v-2M176.53,552.6v2M169.4,642.55h2M269.6,642.55h-2M188.17,649.3v-2M188.17,552.6v2M169.4,631.31h2M269.6,631.31h-2M199.80,649.3v-2M199.80,552.6v2M169.4,620.07h2M269.6,620.07h-2M211.43,649.3v-2M211.43,552.6v2M169.4,608.82h2M269.6,608.82h-2M223.07,649.3v-2M223.07,552.6v2M169.4,597.58h2M269.6,597.58h-2M234.70,649.3v-2M234.70,552.6v2M169.4,586.33h2M269.6,586.33h-2M246.33,649.3v-2M246.33,552.6v2M169.4,575.09h2M269.6,575.09h-2M257.97,649.3v-2M257.97,552.6v2M169.4,563.84h2M269.6,563.84h-2" stroke="#a0a0a0" stroke-width="0.7" fill="none"/>
<polygon points="180.70,634.15 184.95,638.40 180.70,642.65 176.45,638.40" fill="#00e6e6"/>
<polygon points="183.70,631.05 187.95,635.30 183.70,639.55 179.45,635.30" fill="#00e6e6"/>
<polygon points="186.80,624.95 191.05,629.20 186.80,633.45 182.55,629.20" fill="#00e6e6"/>
<polygon points="189.90,622.95 194.15,627.20 189.90,631.45 185.65,627.20" fill="#00e6e6"/>
<polygon points="193.90,620.85 198.15,625.10 193.90,629.35 189.65,625.10" fill="#00e6e6"/>
<polygon points="196.00,626.05 200.25,630.30 196.00,634.55 191.75,630.30" fill="#00e6e6"/>
<polygon points="200.10,614.75 204.35,619.00 200.10,623.25 195.85,619.00" fill="#00e6e6"/>
<polygon points="204.20,611.75 208.45,616.00 204.20,620.25 199.95,616.00" fill="#00e6e6"/>
<polygon points="209.30,604.55 213.55,608.80 209.30,613.05 205.05,608.80" fill="#00e6e6"/>
<polygon points="211.30,597.35 215.55,601.60 211.30,605.85 207.05,601.60" fill="#00e6e6"/>
<polygon points="214.40,599.45 218.65,603.70 214.40,607.95 210.15,603.70" fill="#00e6e6"/>
<polygon points="221.50,592.25 225.75,596.50 221.50,600.75 217.25,596.50" fill="#00e6e6"/>
<polygon points="246.10,585.75 250.35,590.00 246.10,594.25 241.85,590.00" fill="#00e6e6"/>
<polygon points="253.20,569.75 257.45,574.00 253.20,578.25 248.95,574.00" fill="#00e6e6"/>
<polygon points="255.90,559.15 260.15,563.40 255.90,567.65 251.65,563.40" fill="#00e6e6"/>
<polygon points="182.70,636.50 183.76,639.04 186.50,639.26 184.41,641.06 185.05,643.74 182.70,642.30 180.35,643.74 180.99,641.06 178.90,639.26 181.64,639.04" fill="#ff0000"/>
<polygon points="182.70,633.00 183.76,635.54 186.50,635.76 184.41,637.56 185.05,640.24 182.70,638.80 180.35,640.24 180.99,637.56 178.90,635.76 181.64,635.54" fill="#ff0000"/>
<polygon points="186.80,627.30 187.86,629.84 190.60,630.06 188.51,631.86 189.15,634.54 186.80,633.10 184.45,634.54 185.09,631.86 183.00,630.06 185.74,629.84" fill="#ff0000"/>
<polygon points="189.90,628.30 190.96,630.84 193.70,631.06 191.61,632.86 192.25,635.54 189.90,634.10 187.55,635.54 188.19,632.86 186.10,631.06 188.84,630.84" fill="#ff0000"/>
<polygon points="193.90,623.20 194.96,625.74 197.70,625.96 195.61,627.76 196.25,630.44 193.90,629.00 191.55,630.44 192.19,627.76 190.10,625.96 192.84,625.74" fill="#ff0000"/>
<polygon points="196.60,618.10 197.66,620.64 200.40,620.86 198.31,622.66 198.95,625.34 196.60,623.90 194.25,625.34 194.89,622.66 192.80,620.86 195.54,620.64" fill="#ff0000"/>
<polygon points="199.10,616.60 200.16,619.14 202.90,619.36 200.81,621.16 201.45,623.84 199.10,622.40 196.75,623.84 197.39,621.16 195.30,619.36 198.04,619.14" fill="#ff0000"/>
<polygon points="202.10,616.00 203.16,618.54 205.90,618.76 203.81,620.56 204.45,623.24 202.10,621.80 199.75,623.24 200.39,620.56 198.30,618.76 201.04,618.54" fill="#ff0000"/>
<polygon points="205.20,612.00 206.26,614.54 209.00,614.76 206.91,616.56 207.55,619.24 205.20,617.80 202.85,619.24 203.49,616.56 201.40,614.76 204.14,614.54" fill="#ff0000"/>
<polygon points="209.30,607.90 210.36,610.44 213.10,610.66 211.01,612.46 211.65,615.14 209.30,613.70 206.95,615.14 207.59,612.46 205.50,610.66 208.24,610.44" fill="#ff0000"/>
<polygon points="211.30,605.80 212.36,608.34 215.10,608.56 213.01,610.36 213.65,613.04 211.30,611.60 208.95,613.04 209.59,610.36 207.50,608.56 210.24,608.34" fill="#ff0000"/>
<polygon points="213.80,603.80 214.86,606.34 217.60,606.56 215.51,608.36 216.15,611.04 213.80,609.60 211.45,611.04 212.09,608.36 210.00,606.56 212.74,606.34" fill="#ff0000"/>
<polygon points="221.10,603.80 222.16,606.34 224.90,606.56 222.81,608.36 223.45,611.04 221.10,609.60 218.75,611.04 219.39,608.36 217.30,606.56 220.04,606.34" fill="#ff0000"/>
<polygon points="246.10,615.40 247.16,617.94 249.90,618.16 247.81,619.96 248.45,622.64 246.10,621.20 243.75,622.64 244.39,619.96 242.30,618.16 245.04,617.94" fill="#ff0000"/>
<polygon points="253.80,568.40 254.86,570.94 257.60,571.16 255.51,572.96 256.15,575.64 253.80,574.20 251.45,575.64 252.09,572.96 250.00,571.16 252.74,570.94" fill="#ff0000"/>
<polygon points="256.30,569.00 257.36,571.54 260.10,571.76 258.01,573.56 258.65,576.24 256.30,574.80 253.95,576.24 254.59,573.56 252.50,571.76 255.24,571.54" fill="#ff0000"/>
<rect x="169.4" y="552.6" width="100.20" height="96.70" fill="none" stroke="#8c8c8c" stroke-width="1"/>
<g font-family="Liberation Serif, serif" text-rendering="geometricPrecision" font-weight="bold" font-size="7" fill="#111"><text x="176.53" y="656.00" text-anchor="middle" transform="matrix(1,0,0,1.08,0,-52.480)">0</text><text x="168.10" y="644.95" text-anchor="end" transform="matrix(1,0,0,1.08,0,-51.596)">0</text><text x="199.80" y="656.00" text-anchor="middle" transform="matrix(1,0,0,1.08,0,-52.480)">15</text><text x="168.10" y="622.47" text-anchor="end" transform="matrix(1,0,0,1.08,0,-49.797)">15</text><text x="223.07" y="656.00" text-anchor="middle" transform="matrix(1,0,0,1.08,0,-52.480)">30</text><text x="168.10" y="599.98" text-anchor="end" transform="matrix(1,0,0,1.08,0,-47.998)">30</text><text x="246.33" y="656.00" text-anchor="middle" transform="matrix(1,0,0,1.08,0,-52.480)">45</text><text x="168.10" y="577.49" text-anchor="end" transform="matrix(1,0,0,1.08,0,-46.199)">45</text><text x="269.60" y="656.00" text-anchor="middle" transform="matrix(1,0,0,1.08,0,-52.480)">60</text><text x="168.10" y="555.00" text-anchor="end" transform="matrix(1,0,0,1.08,0,-44.400)">60</text><text x="171.90" y="560.40" text-anchor="start" transform="matrix(1,0,0,1.08,0,-44.832)">FB</text><text x="255.40" y="646.50" text-anchor="start" transform="matrix(1,0,0,1.08,0,-51.720)">MM</text></g>
<g font-family="Liberation Serif, serif" text-rendering="geometricPrecision" font-weight="bold" font-size="7" fill="#111"><text x="220.40" y="548.40" text-anchor="middle" transform="matrix(1,0,0,1.08,0,-43.872)"><tspan>Stomach D</tspan><tspan font-size="5" dy="2.0">0.5cc</tspan><tspan dy="-2.0"></tspan><tspan> (Gy)</tspan></text></g>
<polygon points="314.1,649.7 410.4,553.2 314.1,553.2" fill="#d9d9d9"/>
<path d="M323.29,649.7v-2M323.29,553.2v2M314.1,640.49h2M410.4,640.49h-2M332.97,649.7v-2M332.97,553.2v2M314.1,630.79h2M410.4,630.79h-2M342.65,649.7v-2M342.65,553.2v2M314.1,621.09h2M410.4,621.09h-2M352.33,649.7v-2M352.33,553.2v2M314.1,611.39h2M410.4,611.39h-2M362.01,649.7v-2M362.01,553.2v2M314.1,601.69h2M410.4,601.69h-2M371.69,649.7v-2M371.69,553.2v2M314.1,591.99h2M410.4,591.99h-2M381.36,649.7v-2M381.36,553.2v2M314.1,582.30h2M410.4,582.30h-2M391.04,649.7v-2M391.04,553.2v2M314.1,572.60h2M410.4,572.60h-2M400.72,649.7v-2M400.72,553.2v2M314.1,562.90h2M410.4,562.90h-2" stroke="#a0a0a0" stroke-width="0.7" fill="none"/>
<polygon points="327.40,630.05 331.65,634.30 327.40,638.55 323.15,634.30" fill="#00e6e6"/>
<polygon points="336.80,620.45 341.05,624.70 336.80,628.95 332.55,624.70" fill="#00e6e6"/>
<polygon points="340.30,618.45 344.55,622.70 340.30,626.95 336.05,622.70" fill="#00e6e6"/>
<polygon points="343.40,621.35 347.65,625.60 343.40,629.85 339.15,625.60" fill="#00e6e6"/>
<polygon points="361.70,603.55 365.95,607.80 361.70,612.05 357.45,607.80" fill="#00e6e6"/>
<polygon points="366.20,598.85 370.45,603.10 366.20,607.35 361.95,603.10" fill="#00e6e6"/>
<polygon points="402.20,564.05 406.45,568.30 402.20,572.55 397.95,568.30" fill="#00e6e6"/>
<polygon points="327.40,633.40 328.46,635.94 331.20,636.16 329.11,637.96 329.75,640.64 327.40,639.20 325.05,640.64 325.69,637.96 323.60,636.16 326.34,635.94" fill="#ff0000"/>
<polygon points="329.40,632.90 330.46,635.44 333.20,635.66 331.11,637.46 331.75,640.14 329.40,638.70 327.05,640.14 327.69,637.46 325.60,635.66 328.34,635.44" fill="#ff0000"/>
<polygon points="336.80,627.70 337.86,630.24 340.60,630.46 338.51,632.26 339.15,634.94 336.80,633.50 334.45,634.94 335.09,632.26 333.00,630.46 335.74,630.24" fill="#ff0000"/>
<polygon points="339.70,622.80 340.76,625.34 343.50,625.56 341.41,627.36 342.05,630.04 339.70,628.60 337.35,630.04 337.99,627.36 335.90,625.56 338.64,625.34" fill="#ff0000"/>
<polygon points="342.30,622.20 343.36,624.74 346.10,624.96 344.01,626.76 344.65,629.44 342.30,628.00 339.95,629.44 340.59,626.76 338.50,624.96 341.24,624.74" fill="#ff0000"/>
<polygon points="343.80,614.00 344.86,616.54 347.60,616.76 345.51,618.56 346.15,621.24 343.80,619.80 341.45,621.24 342.09,618.56 340.00,616.76 342.74,616.54" fill="#ff0000"/>
<polygon points="361.70,613.40 362.76,615.94 365.50,616.16 363.41,617.96 364.05,620.64 361.70,619.20 359.35,620.64 359.99,617.96 357.90,616.16 360.64,615.94" fill="#ff0000"/>
<polygon points="362.20,616.60 363.26,619.14 366.00,619.36 363.91,621.16 364.55,623.84 362.20,622.40 359.85,623.84 360.49,621.16 358.40,619.36 361.14,619.14" fill="#ff0000"/>
<polygon points="363.40,602.70 364.46,605.24 367.20,605.46 365.11,607.26 365.75,609.94 363.40,608.50 361.05,609.94 361.69,607.26 359.60,605.46 362.34,605.24" fill="#ff0000"/>
<polygon points="366.20,607.20 367.26,609.74 370.00,609.96 367.91,611.76 368.55,614.44 366.20,613.00 363.85,614.44 364.49,611.76 362.40,609.96 365.14,609.74" fill="#ff0000"/>
<polygon points="402.20,556.80 403.26,559.34 406.00,559.56 403.91,561.36 404.55,564.04 402.20,562.60 399.85,564.04 400.49,561.36 398.40,559.56 401.14,559.34" fill="#ff0000"/>
<rect x="314.1" y="553.2" width="96.30" height="96.50" fill="none" stroke="#8c8c8c" stroke-width="1"/>
<g font-family="Liberation Serif, serif" text-rendering="geometricPrecision" font-weight="bold" font-size="7" fill="#111"><text x="323.29" y="656.40" text-anchor="middle" transform="matrix(1,0,0,1.08,0,-52.512)">0</text><text x="312.80" y="642.89" text-anchor="end" transform="matrix(1,0,0,1.08,0,-51.431)">0</text><text x="342.65" y="656.40" text-anchor="middle" transform="matrix(1,0,0,1.08,0,-52.512)">2</text><text x="312.80" y="623.49" text-anchor="end" transform="matrix(1,0,0,1.08,0,-49.879)">2</text><text x="362.01" y="656.40" text-anchor="middle" transform="matrix(1,0,0,1.08,0,-52.512)">4</text><text x="312.80" y="604.09" text-anchor="end" transform="matrix(1,0,0,1.08,0,-48.327)">4</text><text x="381.36" y="656.40" text-anchor="middle" transform="matrix(1,0,0,1.08,0,-52.512)">6</text><text x="312.80" y="584.70" text-anchor="end" transform="matrix(1,0,0,1.08,0,-46.776)">6</text><text x="400.72" y="656.40" text-anchor="middle" transform="matrix(1,0,0,1.08,0,-52.512)">8</text><text x="312.80" y="565.30" text-anchor="end" transform="matrix(1,0,0,1.08,0,-45.224)">8</text><text x="316.60" y="561.00" text-anchor="start" transform="matrix(1,0,0,1.08,0,-44.880)">FB</text><text x="396.20" y="646.90" text-anchor="start" transform="matrix(1,0,0,1.08,0,-51.752)">MM</text></g>
<g font-family="Liberation Serif, serif" text-rendering="geometricPrecision" font-weight="bold" font-size="7" fill="#111"><text x="363.15" y="549.00" text-anchor="middle" transform="matrix(1,0,0,1.08,0,-43.920)"><tspan>Stomach D</tspan><tspan font-size="5" dy="2.0">mean</tspan><tspan dy="-2.0"></tspan><tspan> (Gy)</tspan></text></g>
<polygon points="429.6,648.6 529.8,552.6 429.6,552.6" fill="#d9d9d9"/>
<path d="M432.74,648.6v-2M432.74,552.6v2M429.6,645.89h2M529.8,645.89h-2M441.46,648.6v-2M441.46,552.6v2M429.6,637.41h2M529.8,637.41h-2M450.17,648.6v-2M450.17,552.6v2M429.6,628.93h2M529.8,628.93h-2M458.89,648.6v-2M458.89,552.6v2M429.6,620.44h2M529.8,620.44h-2M467.61,648.6v-2M467.61,552.6v2M429.6,611.96h2M529.8,611.96h-2M476.33,648.6v-2M476.33,552.6v2M429.6,603.48h2M529.8,603.48h-2M485.05,648.6v-2M485.05,552.6v2M429.6,595.00h2M529.8,595.00h-2M493.77,648.6v-2M493.77,552.6v2M429.6,586.52h2M529.8,586.52h-2M502.48,648.6v-2M502.48,552.6v2M429.6,578.04h2M529.8,578.04h-2M511.20,648.6v-2M511.20,552.6v2M429.6,569.56h2M529.8,569.56h-2M519.92,648.6v-2M519.92,552.6v2M429.6,561.08h2M529.8,561.08h-2M528.64,648.6v-2M528.64,552.6v2" stroke="#a0a0a0" stroke-width="0.7" fill="none"/>
<polygon points="461.30,611.65 465.55,615.90 461.30,620.15 457.05,615.90" fill="#00e6e6"/>
<polygon points="465.80,619.25 470.05,623.50 465.80,627.75 461.55,623.50" fill="#00e6e6"/>
<polygon points="467.90,604.55 472.15,608.80 467.90,613.05 463.65,608.80" fill="#00e6e6"/>
<polygon points="480.70,600.05 484.95,604.30 480.70,608.55 476.45,604.30" fill="#00e6e6"/>
<polygon points="481.70,586.15 485.95,590.40 481.70,594.65 477.45,590.40" fill="#00e6e6"/>
<polygon points="486.90,588.15 491.15,592.40 486.90,596.65 482.65,592.40" fill="#00e6e6"/>
<polygon points="495.00,587.15 499.25,591.40 495.00,595.65 490.75,591.40" fill="#00e6e6"/>
<polygon points="502.60,570.85 506.85,575.10 502.60,579.35 498.35,575.10" fill="#00e6e6"/>
<polygon points="514.90,587.75 519.15,592.00 514.90,596.25 510.65,592.00" fill="#00e6e6"/>
<polygon points="515.50,562.65 519.75,566.90 515.50,571.15 511.25,566.90" fill="#00e6e6"/>
<polygon points="522.60,563.65 526.85,567.90 522.60,572.15 518.35,567.90" fill="#00e6e6"/>
<polygon points="461.70,615.00 462.76,617.54 465.50,617.76 463.41,619.56 464.05,622.24 461.70,620.80 459.35,622.24 459.99,619.56 457.90,617.76 460.64,617.54" fill="#ff0000"/>
<polygon points="465.80,627.30 466.86,629.84 469.60,630.06 467.51,631.86 468.15,634.54 465.80,633.10 463.45,634.54 464.09,631.86 462.00,630.06 464.74,629.84" fill="#ff0000"/>
<polygon points="467.90,610.90 468.96,613.44 471.70,613.66 469.61,615.46 470.25,618.14 467.90,616.70 465.55,618.14 466.19,615.46 464.10,613.66 466.84,613.44" fill="#ff0000"/>
<polygon points="481.30,600.70 482.36,603.24 485.10,603.46 483.01,605.26 483.65,607.94 481.30,606.50 478.95,607.94 479.59,605.26 477.50,603.46 480.24,603.24" fill="#ff0000"/>
<polygon points="481.70,590.10 482.76,592.64 485.50,592.86 483.41,594.66 484.05,597.34 481.70,595.90 479.35,597.34 479.99,594.66 477.90,592.86 480.64,592.64" fill="#ff0000"/>
<polygon points="486.90,596.20 487.96,598.74 490.70,598.96 488.61,600.76 489.25,603.44 486.90,602.00 484.55,603.44 485.19,600.76 483.10,598.96 485.84,598.74" fill="#ff0000"/>
<polygon points="495.00,599.10 496.06,601.64 498.80,601.86 496.71,603.66 497.35,606.34 495.00,604.90 492.65,606.34 493.29,603.66 491.20,601.86 493.94,601.64" fill="#ff0000"/>
<polygon points="503.20,578.60 504.26,581.14 507.00,581.36 504.91,583.16 505.55,585.84 503.20,584.40 500.85,585.84 501.49,583.16 499.40,581.36 502.14,581.14" fill="#ff0000"/>
<polygon points="514.90,580.30 515.96,582.84 518.70,583.06 516.61,584.86 517.25,587.54 514.90,586.10 512.55,587.54 513.19,584.86 511.10,583.06 513.84,582.84" fill="#ff0000"/>
<polygon points="516.10,557.80 517.16,560.34 519.90,560.56 517.81,562.36 518.45,565.04 516.10,563.60 513.75,565.04 514.39,562.36 512.30,560.56 515.04,560.34" fill="#ff0000"/>
<polygon points="522.60,556.80 523.66,559.34 526.40,559.56 524.31,561.36 524.95,564.04 522.60,562.60 520.25,564.04 520.89,561.36 518.80,559.56 521.54,559.34" fill="#ff0000"/>
<rect x="429.6" y="552.6" width="100.20" height="96.00" fill="none" stroke="#8c8c8c" stroke-width="1"/>
<g font-family="Liberation Serif, serif" text-rendering="geometricPrecision" font-weight="bold" font-size="7" fill="#111"><text x="441.46" y="655.30" text-anchor="middle" transform="matrix(1,0,0,1.08,0,-52.424)">0</text><text x="428.30" y="639.81" text-anchor="end" transform="matrix(1,0,0,1.08,0,-51.184)">0</text><text x="458.89" y="655.30" text-anchor="middle" transform="matrix(1,0,0,1.08,0,-52.424)">3</text><text x="428.30" y="622.84" text-anchor="end" transform="matrix(1,0,0,1.08,0,-49.828)">3</text><text x="476.33" y="655.30" text-anchor="middle" transform="matrix(1,0,0,1.08,0,-52.424)">6</text><text x="428.30" y="605.88" text-anchor="end" transform="matrix(1,0,0,1.08,0,-48.471)">6</text><text x="493.77" y="655.30" text-anchor="middle" transform="matrix(1,0,0,1.08,0,-52.424)">9</text><text x="428.30" y="588.92" text-anchor="end" transform="matrix(1,0,0,1.08,0,-47.114)">9</text><text x="511.20" y="655.30" text-anchor="middle" transform="matrix(1,0,0,1.08,0,-52.424)">12</text><text x="428.30" y="571.96" text-anchor="end" transform="matrix(1,0,0,1.08,0,-45.757)">12</text><text x="528.64" y="655.30" text-anchor="middle" transform="matrix(1,0,0,1.08,0,-52.424)">15</text><text x="428.30" y="555.00" text-anchor="end" transform="matrix(1,0,0,1.08,0,-44.400)">15</text><text x="432.10" y="560.40" text-anchor="start" transform="matrix(1,0,0,1.08,0,-44.832)">FB</text><text x="515.60" y="645.80" text-anchor="start" transform="matrix(1,0,0,1.08,0,-51.664)">MM</text></g>
<g font-family="Liberation Serif, serif" text-rendering="geometricPrecision" font-weight="bold" font-size="7" fill="#111"><text x="480.60" y="548.40" text-anchor="middle" transform="matrix(1,0,0,1.08,0,-43.872)"><tspan>Stomach D</tspan><tspan font-size="5" dy="2.0">0.5cc</tspan><tspan dy="-2.0"></tspan><tspan> (Gy)</tspan></text></g>
<polygon points="49.6,765.1 145.1,669.6 49.6,669.6" fill="#d9d9d9"/>
<path d="M56.82,765.1v-2M56.82,669.6v2M49.6,758.08h2M145.1,758.08h-2M64.85,765.1v-2M64.85,669.6v2M49.6,750.02h2M145.1,750.02h-2M72.87,765.1v-2M72.87,669.6v2M49.6,741.95h2M145.1,741.95h-2M80.90,765.1v-2M80.90,669.6v2M49.6,733.89h2M145.1,733.89h-2M88.92,765.1v-2M88.92,669.6v2M49.6,725.82h2M145.1,725.82h-2M96.95,765.1v-2M96.95,669.6v2M49.6,717.75h2M145.1,717.75h-2M104.97,765.1v-2M104.97,669.6v2M49.6,709.69h2M145.1,709.69h-2M113.00,765.1v-2M113.00,669.6v2M49.6,701.62h2M145.1,701.62h-2M121.02,765.1v-2M121.02,669.6v2M49.6,693.56h2M145.1,693.56h-2M129.05,765.1v-2M129.05,669.6v2M49.6,685.49h2M145.1,685.49h-2M137.07,765.1v-2M137.07,669.6v2M49.6,677.42h2M145.1,677.42h-2" stroke="#a0a0a0" stroke-width="0.7" fill="none"/>
<polygon points="58.80,751.25 63.05,755.50 58.80,759.75 54.55,755.50" fill="#00e6e6"/>
<polygon points="62.90,747.75 67.15,752.00 62.90,756.25 58.65,752.00" fill="#00e6e6"/>
<polygon points="67.40,740.35 71.65,744.60 67.40,748.85 63.15,744.60" fill="#00e6e6"/>
<polygon points="75.20,739.95 79.45,744.20 75.20,748.45 70.95,744.20" fill="#00e6e6"/>
<polygon points="77.60,735.75 81.85,740.00 77.60,744.25 73.35,740.00" fill="#00e6e6"/>
<polygon points="80.90,728.75 85.15,733.00 80.90,737.25 76.65,733.00" fill="#00e6e6"/>
<polygon points="85.00,732.85 89.25,737.10 85.00,741.35 80.75,737.10" fill="#00e6e6"/>
<polygon points="94.00,715.45 98.25,719.70 94.00,723.95 89.75,719.70" fill="#00e6e6"/>
<polygon points="102.80,715.85 107.05,720.10 102.80,724.35 98.55,720.10" fill="#00e6e6"/>
<polygon points="108.30,700.75 112.55,705.00 108.30,709.25 104.05,705.00" fill="#00e6e6"/>
<polygon points="113.00,701.55 117.25,705.80 113.00,710.05 108.75,705.80" fill="#00e6e6"/>
<polygon points="117.10,689.95 121.35,694.20 117.10,698.45 112.85,694.20" fill="#00e6e6"/>
<polygon points="120.10,685.85 124.35,690.10 120.10,694.35 115.85,690.10" fill="#00e6e6"/>
<polygon points="141.60,678.65 145.85,682.90 141.60,687.15 137.35,682.90" fill="#00e6e6"/>
<polygon points="59.20,752.90 60.26,755.44 63.00,755.66 60.91,757.46 61.55,760.14 59.20,758.70 56.85,760.14 57.49,757.46 55.40,755.66 58.14,755.44" fill="#ff0000"/>
<polygon points="62.90,749.40 63.96,751.94 66.70,752.16 64.61,753.96 65.25,756.64 62.90,755.20 60.55,756.64 61.19,753.96 59.10,752.16 61.84,751.94" fill="#ff0000"/>
<polygon points="67.40,744.30 68.46,746.84 71.20,747.06 69.11,748.86 69.75,751.54 67.40,750.10 65.05,751.54 65.69,748.86 63.60,747.06 66.34,746.84" fill="#ff0000"/>
<polygon points="69.00,742.00 70.06,744.54 72.80,744.76 70.71,746.56 71.35,749.24 69.00,747.80 66.65,749.24 67.29,746.56 65.20,744.76 67.94,744.54" fill="#ff0000"/>
<polygon points="76.80,737.20 77.86,739.74 80.60,739.96 78.51,741.76 79.15,744.44 76.80,743.00 74.45,744.44 75.09,741.76 73.00,739.96 75.74,739.74" fill="#ff0000"/>
<polygon points="80.90,732.10 81.96,734.64 84.70,734.86 82.61,736.66 83.25,739.34 80.90,737.90 78.55,739.34 79.19,736.66 77.10,734.86 79.84,734.64" fill="#ff0000"/>
<polygon points="84.40,730.00 85.46,732.54 88.20,732.76 86.11,734.56 86.75,737.24 84.40,735.80 82.05,737.24 82.69,734.56 80.60,732.76 83.34,732.54" fill="#ff0000"/>
<polygon points="93.20,723.90 94.26,726.44 97.00,726.66 94.91,728.46 95.55,731.14 93.20,729.70 90.85,731.14 91.49,728.46 89.40,726.66 92.14,726.44" fill="#ff0000"/>
<polygon points="94.00,719.80 95.06,722.34 97.80,722.56 95.71,724.36 96.35,727.04 94.00,725.60 91.65,727.04 92.29,724.36 90.20,722.56 92.94,722.34" fill="#ff0000"/>
<polygon points="102.80,715.70 103.86,718.24 106.60,718.46 104.51,720.26 105.15,722.94 102.80,721.50 100.45,722.94 101.09,720.26 99.00,718.46 101.74,718.24" fill="#ff0000"/>
<polygon points="109.90,712.00 110.96,714.54 113.70,714.76 111.61,716.56 112.25,719.24 109.90,717.80 107.55,719.24 108.19,716.56 106.10,714.76 108.84,714.54" fill="#ff0000"/>
<polygon points="112.40,707.50 113.46,710.04 116.20,710.26 114.11,712.06 114.75,714.74 112.40,713.30 110.05,714.74 110.69,712.06 108.60,710.26 111.34,710.04" fill="#ff0000"/>
<polygon points="108.30,702.40 109.36,704.94 112.10,705.16 110.01,706.96 110.65,709.64 108.30,708.20 105.95,709.64 106.59,706.96 104.50,705.16 107.24,704.94" fill="#ff0000"/>
<polygon points="116.10,694.20 117.16,696.74 119.90,696.96 117.81,698.76 118.45,701.44 116.10,700.00 113.75,701.44 114.39,698.76 112.30,696.96 115.04,696.74" fill="#ff0000"/>
<polygon points="120.10,696.90 121.16,699.44 123.90,699.66 121.81,701.46 122.45,704.14 120.10,702.70 117.75,704.14 118.39,701.46 116.30,699.66 119.04,699.44" fill="#ff0000"/>
<polygon points="141.60,683.00 142.66,685.54 145.40,685.76 143.31,687.56 143.95,690.24 141.60,688.80 139.25,690.24 139.89,687.56 137.80,685.76 140.54,685.54" fill="#ff0000"/>
<rect x="49.6" y="669.6" width="95.50" height="95.50" fill="none" stroke="#8c8c8c" stroke-width="1"/>
<g font-family="Liberation Serif, serif" text-rendering="geometricPrecision" font-weight="bold" font-size="7" fill="#111"><text x="56.82" y="771.80" text-anchor="middle" transform="matrix(1,0,0,1.08,0,-61.744)">0</text><text x="48.30" y="760.48" text-anchor="end" transform="matrix(1,0,0,1.08,0,-60.839)">0</text><text x="72.87" y="771.80" text-anchor="middle" transform="matrix(1,0,0,1.08,0,-61.744)">2</text><text x="48.30" y="744.35" text-anchor="end" transform="matrix(1,0,0,1.08,0,-59.548)">2</text><text x="88.92" y="771.80" text-anchor="middle" transform="matrix(1,0,0,1.08,0,-61.744)">4</text><text x="48.30" y="728.22" text-anchor="end" transform="matrix(1,0,0,1.08,0,-58.258)">4</text><text x="104.97" y="771.80" text-anchor="middle" transform="matrix(1,0,0,1.08,0,-61.744)">6</text><text x="48.30" y="712.09" text-anchor="end" transform="matrix(1,0,0,1.08,0,-56.967)">6</text><text x="121.02" y="771.80" text-anchor="middle" transform="matrix(1,0,0,1.08,0,-61.744)">8</text><text x="48.30" y="695.96" text-anchor="end" transform="matrix(1,0,0,1.08,0,-55.676)">8</text><text x="137.07" y="771.80" text-anchor="middle" transform="matrix(1,0,0,1.08,0,-61.744)">10</text><text x="48.30" y="679.82" text-anchor="end" transform="matrix(1,0,0,1.08,0,-54.386)">10</text><text x="52.10" y="677.40" text-anchor="start" transform="matrix(1,0,0,1.08,0,-54.192)">FB</text><text x="130.90" y="762.30" text-anchor="start" transform="matrix(1,0,0,1.08,0,-60.984)">MM</text></g>
<g font-family="Liberation Serif, serif" text-rendering="geometricPrecision" font-weight="bold" font-size="7" fill="#111"><text x="98.25" y="665.40" text-anchor="middle" transform="matrix(1,0,0,1.08,0,-53.232)"><tspan>Spinal cord D</tspan><tspan font-size="5" dy="2.0">mean</tspan><tspan dy="-2.0"></tspan><tspan> (Gy)</tspan></text></g>
<polygon points="169.4,765.1 269.6,670 169.4,670" fill="#d9d9d9"/>
<path d="M180.24,765.1v-2M180.24,670v2M169.4,755.48h2M269.6,755.48h-2M191.41,765.1v-2M191.41,670v2M169.4,744.80h2M269.6,744.80h-2M202.58,765.1v-2M202.58,670v2M169.4,734.11h2M269.6,734.11h-2M213.75,765.1v-2M213.75,670v2M169.4,723.43h2M269.6,723.43h-2M224.92,765.1v-2M224.92,670v2M169.4,712.74h2M269.6,712.74h-2M236.09,765.1v-2M236.09,670v2M169.4,702.06h2M269.6,702.06h-2M247.26,765.1v-2M247.26,670v2M169.4,691.37h2M269.6,691.37h-2M258.43,765.1v-2M258.43,670v2M169.4,680.69h2M269.6,680.69h-2" stroke="#a0a0a0" stroke-width="0.7" fill="none"/>
<polygon points="180.20,751.85 184.45,756.10 180.20,760.35 175.95,756.10" fill="#00e6e6"/>
<polygon points="182.70,744.05 186.95,748.30 182.70,752.55 178.45,748.30" fill="#00e6e6"/>
<polygon points="187.20,747.15 191.45,751.40 187.20,755.65 182.95,751.40" fill="#00e6e6"/>
<polygon points="192.90,734.85 197.15,739.10 192.90,743.35 188.65,739.10" fill="#00e6e6"/>
<polygon points="196.00,733.35 200.25,737.60 196.00,741.85 191.75,737.60" fill="#00e6e6"/>
<polygon points="202.70,730.15 206.95,734.40 202.70,738.65 198.45,734.40" fill="#00e6e6"/>
<polygon points="209.70,734.45 213.95,738.70 209.70,742.95 205.45,738.70" fill="#00e6e6"/>
<polygon points="211.30,722.65 215.55,726.90 211.30,731.15 207.05,726.90" fill="#00e6e6"/>
<polygon points="214.40,713.45 218.65,717.70 214.40,721.95 210.15,717.70" fill="#00e6e6"/>
<polygon points="218.50,714.45 222.75,718.70 218.50,722.95 214.25,718.70" fill="#00e6e6"/>
<polygon points="223.20,710.95 227.45,715.20 223.20,719.45 218.95,715.20" fill="#00e6e6"/>
<polygon points="230.10,701.55 234.35,705.80 230.10,710.05 225.85,705.80" fill="#00e6e6"/>
<polygon points="235.40,691.95 239.65,696.20 235.40,700.45 231.15,696.20" fill="#00e6e6"/>
<polygon points="244.40,690.95 248.65,695.20 244.40,699.45 240.15,695.20" fill="#00e6e6"/>
<polygon points="262.40,684.35 266.65,688.60 262.40,692.85 258.15,688.60" fill="#00e6e6"/>
<polygon points="180.20,752.10 181.26,754.64 184.00,754.86 181.91,756.66 182.55,759.34 180.20,757.90 177.85,759.34 178.49,756.66 176.40,754.86 179.14,754.64" fill="#ff0000"/>
<polygon points="182.70,750.50 183.76,753.04 186.50,753.26 184.41,755.06 185.05,757.74 182.70,756.30 180.35,757.74 180.99,755.06 178.90,753.26 181.64,753.04" fill="#ff0000"/>
<polygon points="187.20,741.90 188.26,744.44 191.00,744.66 188.91,746.46 189.55,749.14 187.20,747.70 184.85,749.14 185.49,746.46 183.40,744.66 186.14,744.44" fill="#ff0000"/>
<polygon points="192.90,739.20 193.96,741.74 196.70,741.96 194.61,743.76 195.25,746.44 192.90,745.00 190.55,746.44 191.19,743.76 189.10,741.96 191.84,741.74" fill="#ff0000"/>
<polygon points="196.00,740.20 197.06,742.74 199.80,742.96 197.71,744.76 198.35,747.44 196.00,746.00 193.65,747.44 194.29,744.76 192.20,742.96 194.94,742.74" fill="#ff0000"/>
<polygon points="201.10,734.50 202.16,737.04 204.90,737.26 202.81,739.06 203.45,741.74 201.10,740.30 198.75,741.74 199.39,739.06 197.30,737.26 200.04,737.04" fill="#ff0000"/>
<polygon points="202.70,731.60 203.76,734.14 206.50,734.36 204.41,736.16 205.05,738.84 202.70,737.40 200.35,738.84 200.99,736.16 198.90,734.36 201.64,734.14" fill="#ff0000"/>
<polygon points="209.30,727.60 210.36,730.14 213.10,730.36 211.01,732.16 211.65,734.84 209.30,733.40 206.95,734.84 207.59,732.16 205.50,730.36 208.24,730.14" fill="#ff0000"/>
<polygon points="211.30,725.90 212.36,728.44 215.10,728.66 213.01,730.46 213.65,733.14 211.30,731.70 208.95,733.14 209.59,730.46 207.50,728.66 210.24,728.44" fill="#ff0000"/>
<polygon points="215.00,730.00 216.06,732.54 218.80,732.76 216.71,734.56 217.35,737.24 215.00,735.80 212.65,737.24 213.29,734.56 211.20,732.76 213.94,732.54" fill="#ff0000"/>
<polygon points="215.00,722.20 216.06,724.74 218.80,724.96 216.71,726.76 217.35,729.44 215.00,728.00 212.65,729.44 213.29,726.76 211.20,724.96 213.94,724.74" fill="#ff0000"/>
<polygon points="217.40,718.80 218.46,721.34 221.20,721.56 219.11,723.36 219.75,726.04 217.40,724.60 215.05,726.04 215.69,723.36 213.60,721.56 216.34,721.34" fill="#ff0000"/>
<polygon points="223.60,714.10 224.66,716.64 227.40,716.86 225.31,718.66 225.95,721.34 223.60,719.90 221.25,721.34 221.89,718.66 219.80,716.86 222.54,716.64" fill="#ff0000"/>
<polygon points="230.10,709.20 231.16,711.74 233.90,711.96 231.81,713.76 232.45,716.44 230.10,715.00 227.75,716.44 228.39,713.76 226.30,711.96 229.04,711.74" fill="#ff0000"/>
<polygon points="235.80,702.40 236.86,704.94 239.60,705.16 237.51,706.96 238.15,709.64 235.80,708.20 233.45,709.64 234.09,706.96 232.00,705.16 234.74,704.94" fill="#ff0000"/>
<polygon points="244.00,695.70 245.06,698.24 247.80,698.46 245.71,700.26 246.35,702.94 244.00,701.50 241.65,702.94 242.29,700.26 240.20,698.46 242.94,698.24" fill="#ff0000"/>
<polygon points="262.40,678.90 263.46,681.44 266.20,681.66 264.11,683.46 264.75,686.14 262.40,684.70 260.05,686.14 260.69,683.46 258.60,681.66 261.34,681.44" fill="#ff0000"/>
<rect x="169.4" y="670" width="100.20" height="95.10" fill="none" stroke="#8c8c8c" stroke-width="1"/>
<g font-family="Liberation Serif, serif" text-rendering="geometricPrecision" font-weight="bold" font-size="7" fill="#111"><text x="180.24" y="771.80" text-anchor="middle" transform="matrix(1,0,0,1.08,0,-61.744)">0</text><text x="168.10" y="757.88" text-anchor="end" transform="matrix(1,0,0,1.08,0,-60.631)">0</text><text x="202.58" y="771.80" text-anchor="middle" transform="matrix(1,0,0,1.08,0,-61.744)">20</text><text x="168.10" y="736.51" text-anchor="end" transform="matrix(1,0,0,1.08,0,-58.921)">20</text><text x="224.92" y="771.80" text-anchor="middle" transform="matrix(1,0,0,1.08,0,-61.744)">40</text><text x="168.10" y="715.14" text-anchor="end" transform="matrix(1,0,0,1.08,0,-57.211)">40</text><text x="247.26" y="771.80" text-anchor="middle" transform="matrix(1,0,0,1.08,0,-61.744)">60</text><text x="168.10" y="693.77" text-anchor="end" transform="matrix(1,0,0,1.08,0,-55.502)">60</text><text x="269.60" y="771.80" text-anchor="middle" transform="matrix(1,0,0,1.08,0,-61.744)">80</text><text x="168.10" y="672.40" text-anchor="end" transform="matrix(1,0,0,1.08,0,-53.792)">80</text><text x="171.90" y="677.80" text-anchor="start" transform="matrix(1,0,0,1.08,0,-54.224)">FB</text><text x="255.40" y="762.30" text-anchor="start" transform="matrix(1,0,0,1.08,0,-60.984)">MM</text></g>
<g font-family="Liberation Serif, serif" text-rendering="geometricPrecision" font-weight="bold" font-size="7" fill="#111"><text x="220.40" y="665.80" text-anchor="middle" transform="matrix(1,0,0,1.08,0,-53.264)"><tspan>Spinal cord V</tspan><tspan font-size="5" dy="2.0">40Gy</tspan><tspan dy="-2.0"></tspan><tspan>(%)</tspan></text></g>
<polygon points="314.1,765.7 410.2,670.2 314.1,670.2" fill="#d9d9d9"/>
<path d="M322.52,765.7v-2M322.52,670.2v2M314.1,757.49h2M410.2,757.49h-2M331.29,765.7v-2M331.29,670.2v2M314.1,748.76h2M410.2,748.76h-2M340.05,765.7v-2M340.05,670.2v2M314.1,740.04h2M410.2,740.04h-2M348.82,765.7v-2M348.82,670.2v2M314.1,731.31h2M410.2,731.31h-2M357.59,765.7v-2M357.59,670.2v2M314.1,722.58h2M410.2,722.58h-2M366.36,765.7v-2M366.36,670.2v2M314.1,713.85h2M410.2,713.85h-2M375.13,765.7v-2M375.13,670.2v2M314.1,705.12h2M410.2,705.12h-2M383.90,765.7v-2M383.90,670.2v2M314.1,696.39h2M410.2,696.39h-2M392.66,765.7v-2M392.66,670.2v2M314.1,687.66h2M410.2,687.66h-2M401.43,765.7v-2M401.43,670.2v2M314.1,678.93h2M410.2,678.93h-2" stroke="#a0a0a0" stroke-width="0.7" fill="none"/>
<polygon points="328.00,747.75 332.25,752.00 328.00,756.25 323.75,752.00" fill="#00e6e6"/>
<polygon points="336.80,740.35 341.05,744.60 336.80,748.85 332.55,744.60" fill="#00e6e6"/>
<polygon points="345.40,731.85 349.65,736.10 345.40,740.35 341.15,736.10" fill="#00e6e6"/>
<polygon points="346.40,724.65 350.65,728.90 346.40,733.15 342.15,728.90" fill="#00e6e6"/>
<polygon points="348.50,723.65 352.75,727.90 348.50,732.15 344.25,727.90" fill="#00e6e6"/>
<polygon points="363.40,723.25 367.65,727.50 363.40,731.75 359.15,727.50" fill="#00e6e6"/>
<polygon points="367.90,716.45 372.15,720.70 367.90,724.95 363.65,720.70" fill="#00e6e6"/>
<polygon points="380.60,707.65 384.85,711.90 380.60,716.15 376.35,711.90" fill="#00e6e6"/>
<polygon points="382.60,700.15 386.85,704.40 382.60,708.65 378.35,704.40" fill="#00e6e6"/>
<polygon points="401.00,682.75 405.25,687.00 401.00,691.25 396.75,687.00" fill="#00e6e6"/>
<polygon points="328.00,750.50 329.06,753.04 331.80,753.26 329.71,755.06 330.35,757.74 328.00,756.30 325.65,757.74 326.29,755.06 324.20,753.26 326.94,753.04" fill="#ff0000"/>
<polygon points="336.80,742.70 337.86,745.24 340.60,745.46 338.51,747.26 339.15,749.94 336.80,748.50 334.45,749.94 335.09,747.26 333.00,745.46 335.74,745.24" fill="#ff0000"/>
<polygon points="345.00,734.10 346.06,736.64 348.80,736.86 346.71,738.66 347.35,741.34 345.00,739.90 342.65,741.34 343.29,738.66 341.20,736.86 343.94,736.64" fill="#ff0000"/>
<polygon points="347.40,732.10 348.46,734.64 351.20,734.86 349.11,736.66 349.75,739.34 347.40,737.90 345.05,739.34 345.69,736.66 343.60,734.86 346.34,734.64" fill="#ff0000"/>
<polygon points="346.40,729.00 347.46,731.54 350.20,731.76 348.11,733.56 348.75,736.24 346.40,734.80 344.05,736.24 344.69,733.56 342.60,731.76 345.34,731.54" fill="#ff0000"/>
<polygon points="363.40,716.70 364.46,719.24 367.20,719.46 365.11,721.26 365.75,723.94 363.40,722.50 361.05,723.94 361.69,721.26 359.60,719.46 362.34,719.24" fill="#ff0000"/>
<polygon points="367.50,717.70 368.56,720.24 371.30,720.46 369.21,722.26 369.85,724.94 367.50,723.50 365.15,724.94 365.79,722.26 363.70,720.46 366.44,720.24" fill="#ff0000"/>
<polygon points="380.60,707.50 381.66,710.04 384.40,710.26 382.31,712.06 382.95,714.74 380.60,713.30 378.25,714.74 378.89,712.06 376.80,710.26 379.54,710.04" fill="#ff0000"/>
<polygon points="382.60,700.40 383.66,702.94 386.40,703.16 384.31,704.96 384.95,707.64 382.60,706.20 380.25,707.64 380.89,704.96 378.80,703.16 381.54,702.94" fill="#ff0000"/>
<polygon points="401.00,688.70 402.06,691.24 404.80,691.46 402.71,693.26 403.35,695.94 401.00,694.50 398.65,695.94 399.29,693.26 397.20,691.46 399.94,691.24" fill="#ff0000"/>
<rect x="314.1" y="670.2" width="96.10" height="95.50" fill="none" stroke="#8c8c8c" stroke-width="1"/>
<g font-family="Liberation Serif, serif" text-rendering="geometricPrecision" font-weight="bold" font-size="7" fill="#111"><text x="322.52" y="772.40" text-anchor="middle" transform="matrix(1,0,0,1.08,0,-61.792)">0</text><text x="312.80" y="759.89" text-anchor="end" transform="matrix(1,0,0,1.08,0,-60.792)">0</text><text x="340.05" y="772.40" text-anchor="middle" transform="matrix(1,0,0,1.08,0,-61.792)">1</text><text x="312.80" y="742.44" text-anchor="end" transform="matrix(1,0,0,1.08,0,-59.395)">1</text><text x="357.59" y="772.40" text-anchor="middle" transform="matrix(1,0,0,1.08,0,-61.792)">2</text><text x="312.80" y="724.98" text-anchor="end" transform="matrix(1,0,0,1.08,0,-57.998)">2</text><text x="375.13" y="772.40" text-anchor="middle" transform="matrix(1,0,0,1.08,0,-61.792)">3</text><text x="312.80" y="707.52" text-anchor="end" transform="matrix(1,0,0,1.08,0,-56.601)">3</text><text x="392.66" y="772.40" text-anchor="middle" transform="matrix(1,0,0,1.08,0,-61.792)">4</text><text x="312.80" y="690.06" text-anchor="end" transform="matrix(1,0,0,1.08,0,-55.205)">4</text><text x="410.20" y="772.40" text-anchor="middle" transform="matrix(1,0,0,1.08,0,-61.792)">5</text><text x="312.80" y="672.60" text-anchor="end" transform="matrix(1,0,0,1.08,0,-53.808)">5</text><text x="316.60" y="678.00" text-anchor="start" transform="matrix(1,0,0,1.08,0,-54.240)">FB</text><text x="396.00" y="762.90" text-anchor="start" transform="matrix(1,0,0,1.08,0,-61.032)">MM</text></g>
<g font-family="Liberation Serif, serif" text-rendering="geometricPrecision" font-weight="bold" font-size="7" fill="#111"><text x="363.05" y="666.00" text-anchor="middle" transform="matrix(1,0,0,1.08,0,-53.280)"><tspan>Spinal cord D</tspan><tspan font-size="5" dy="2.0">mean</tspan><tspan dy="-2.0"></tspan><tspan> (Gy)</tspan></text></g>
<polygon points="429.6,765.1 530.2,669.6 429.6,669.6" fill="#d9d9d9"/>
<path d="M437.81,765.1v-2M437.81,669.6v2M429.6,757.55h2M530.2,757.55h-2M446.16,765.1v-2M446.16,669.6v2M429.6,749.45h2M530.2,749.45h-2M454.51,765.1v-2M454.51,669.6v2M429.6,741.36h2M530.2,741.36h-2M462.86,765.1v-2M462.86,669.6v2M429.6,733.27h2M530.2,733.27h-2M471.20,765.1v-2M471.20,669.6v2M429.6,725.17h2M530.2,725.17h-2M479.55,765.1v-2M479.55,669.6v2M429.6,717.08h2M530.2,717.08h-2M487.90,765.1v-2M487.90,669.6v2M429.6,708.99h2M530.2,708.99h-2M496.25,765.1v-2M496.25,669.6v2M429.6,700.89h2M530.2,700.89h-2M504.60,765.1v-2M504.60,669.6v2M429.6,692.80h2M530.2,692.80h-2M512.95,765.1v-2M512.95,669.6v2M429.6,684.71h2M530.2,684.71h-2M521.29,765.1v-2M521.29,669.6v2M429.6,676.61h2M530.2,676.61h-2M529.64,765.1v-2M529.64,669.6v2" stroke="#a0a0a0" stroke-width="0.7" fill="none"/>
<polygon points="437.80,753.85 442.05,758.10 437.80,762.35 433.55,758.10" fill="#00e6e6"/>
<polygon points="445.40,738.35 449.65,742.60 445.40,746.85 441.15,742.60" fill="#00e6e6"/>
<polygon points="455.60,741.05 459.85,745.30 455.60,749.55 451.35,745.30" fill="#00e6e6"/>
<polygon points="469.50,714.45 473.75,718.70 469.50,722.95 465.25,718.70" fill="#00e6e6"/>
<polygon points="471.90,712.35 476.15,716.60 471.90,720.85 467.65,716.60" fill="#00e6e6"/>
<polygon points="479.30,710.95 483.55,715.20 479.30,719.45 475.05,715.20" fill="#00e6e6"/>
<polygon points="487.50,708.35 491.75,712.60 487.50,716.85 483.25,712.60" fill="#00e6e6"/>
<polygon points="493.00,706.25 497.25,710.50 493.00,714.75 488.75,710.50" fill="#00e6e6"/>
<polygon points="512.80,712.35 517.05,716.60 512.80,720.85 508.55,716.60" fill="#00e6e6"/>
<polygon points="516.10,682.35 520.35,686.60 516.10,690.85 511.85,686.60" fill="#00e6e6"/>
<polygon points="524.70,680.35 528.95,684.60 524.70,688.85 520.45,684.60" fill="#00e6e6"/>
<polygon points="437.80,753.50 438.86,756.04 441.60,756.26 439.51,758.06 440.15,760.74 437.80,759.30 435.45,760.74 436.09,758.06 434.00,756.26 436.74,756.04" fill="#ff0000"/>
<polygon points="445.40,752.90 446.46,755.44 449.20,755.66 447.11,757.46 447.75,760.14 445.40,758.70 443.05,760.14 443.69,757.46 441.60,755.66 444.34,755.44" fill="#ff0000"/>
<polygon points="455.60,730.60 456.66,733.14 459.40,733.36 457.31,735.16 457.95,737.84 455.60,736.40 453.25,737.84 453.89,735.16 451.80,733.36 454.54,733.14" fill="#ff0000"/>
<polygon points="469.50,723.50 470.56,726.04 473.30,726.26 471.21,728.06 471.85,730.74 469.50,729.30 467.15,730.74 467.79,728.06 465.70,726.26 468.44,726.04" fill="#ff0000"/>
<polygon points="471.90,725.90 472.96,728.44 475.70,728.66 473.61,730.46 474.25,733.14 471.90,731.70 469.55,733.14 470.19,730.46 468.10,728.66 470.84,728.44" fill="#ff0000"/>
<polygon points="479.30,723.90 480.36,726.44 483.10,726.66 481.01,728.46 481.65,731.14 479.30,729.70 476.95,731.14 477.59,728.46 475.50,726.66 478.24,726.44" fill="#ff0000"/>
<polygon points="487.90,711.20 488.96,713.74 491.70,713.96 489.61,715.76 490.25,718.44 487.90,717.00 485.55,718.44 486.19,715.76 484.10,713.96 486.84,713.74" fill="#ff0000"/>
<polygon points="493.00,711.20 494.06,713.74 496.80,713.96 494.71,715.76 495.35,718.44 493.00,717.00 490.65,718.44 491.29,715.76 489.20,713.96 491.94,713.74" fill="#ff0000"/>
<polygon points="512.80,694.20 513.86,696.74 516.60,696.96 514.51,698.76 515.15,701.44 512.80,700.00 510.45,701.44 511.09,698.76 509.00,696.96 511.74,696.74" fill="#ff0000"/>
<polygon points="516.10,692.20 517.16,694.74 519.90,694.96 517.81,696.76 518.45,699.44 516.10,698.00 513.75,699.44 514.39,696.76 512.30,694.96 515.04,694.74" fill="#ff0000"/>
<polygon points="524.70,700.40 525.76,702.94 528.50,703.16 526.41,704.96 527.05,707.64 524.70,706.20 522.35,707.64 522.99,704.96 520.90,703.16 523.64,702.94" fill="#ff0000"/>
<rect x="429.6" y="669.6" width="100.60" height="95.50" fill="none" stroke="#8c8c8c" stroke-width="1"/>
<g font-family="Liberation Serif, serif" text-rendering="geometricPrecision" font-weight="bold" font-size="7" fill="#111"><text x="437.81" y="771.80" text-anchor="middle" transform="matrix(1,0,0,1.08,0,-61.744)">0</text><text x="428.30" y="759.95" text-anchor="end" transform="matrix(1,0,0,1.08,0,-60.796)">0</text><text x="454.51" y="771.80" text-anchor="middle" transform="matrix(1,0,0,1.08,0,-61.744)">6</text><text x="428.30" y="743.76" text-anchor="end" transform="matrix(1,0,0,1.08,0,-59.501)">6</text><text x="471.20" y="771.80" text-anchor="middle" transform="matrix(1,0,0,1.08,0,-61.744)">12</text><text x="428.30" y="727.57" text-anchor="end" transform="matrix(1,0,0,1.08,0,-58.206)">12</text><text x="487.90" y="771.80" text-anchor="middle" transform="matrix(1,0,0,1.08,0,-61.744)">18</text><text x="428.30" y="711.39" text-anchor="end" transform="matrix(1,0,0,1.08,0,-56.911)">18</text><text x="504.60" y="771.80" text-anchor="middle" transform="matrix(1,0,0,1.08,0,-61.744)">24</text><text x="428.30" y="695.20" text-anchor="end" transform="matrix(1,0,0,1.08,0,-55.616)">24</text><text x="521.29" y="771.80" text-anchor="middle" transform="matrix(1,0,0,1.08,0,-61.744)">30</text><text x="428.30" y="679.01" text-anchor="end" transform="matrix(1,0,0,1.08,0,-54.321)">30</text><text x="432.10" y="677.40" text-anchor="start" transform="matrix(1,0,0,1.08,0,-54.192)">FB</text><text x="516.00" y="762.30" text-anchor="start" transform="matrix(1,0,0,1.08,0,-60.984)">MM</text></g>
<g font-family="Liberation Serif, serif" text-rendering="geometricPrecision" font-weight="bold" font-size="7" fill="#111"><text x="480.80" y="665.40" text-anchor="middle" transform="matrix(1,0,0,1.08,0,-53.232)"><tspan>Spinal cord V</tspan><tspan font-size="5" dy="2.0">5Gy</tspan><tspan dy="-2.0"></tspan><tspan> (%)</tspan></text></g>
<text font-family="Liberation Serif, serif" font-size="20" font-weight="bold" x="49.3" y="14.6" text-anchor="start" fill="#000" >A</text>
<text font-family="Liberation Serif, serif" font-size="20"  x="141.2" y="15" text-anchor="start" fill="#000" style="font-kerning:normal">group A</text>
<text font-family="Liberation Serif, serif" font-size="20" font-weight="bold" x="311.5" y="14.6" text-anchor="start" fill="#000" >B</text>
<text font-family="Liberation Serif, serif" font-size="20"  x="401.8" y="15" text-anchor="start" fill="#000" >group B</text>
<text font-family="Liberation Serif, serif" font-size="20" font-weight="bold" x="49.5" y="291" text-anchor="start" fill="#000" >C</text>
<text font-family="Liberation Serif, serif" font-size="20"  x="140.6" y="289" text-anchor="start" fill="#000" style="font-kerning:normal">group A</text>
<text font-family="Liberation Serif, serif" font-size="20" font-weight="bold" x="311.2" y="290.4" text-anchor="start" fill="#000" >D</text>
<text font-family="Liberation Serif, serif" font-size="20"  x="399.4" y="288.6" text-anchor="start" fill="#000" >group B</text>
<text font-family="Liberation Serif, serif" font-size="20" fill="#000" transform="translate(8,84.8) rotate(90)">Parallel organ</text>
<text font-family="Liberation Serif, serif" font-size="20" fill="#000" transform="translate(5.3,499.1) rotate(90)">Serial organ</text>
<rect x="541.5" y="215.5" width="143" height="106" fill="#fff" stroke="#7c7c7c" stroke-width="1"/>
<polygon points="566.4,218.9 576.4,228.9 566.4,238.9 556.4,228.9" fill="#00ffff"/>
<polygon points="566.40,246.00 568.63,251.93 574.96,252.22 570.01,256.17 571.69,262.28 566.40,258.80 561.11,262.28 562.79,256.17 557.84,252.22 564.17,251.93" fill="#ff0000"/>
<rect x="543.6" y="271.6" width="45.4" height="21.4" fill="#fff" stroke="#c8c8c8" stroke-width="0.8"/>
<rect x="543.6" y="296.5" width="45.4" height="22.5" fill="#c0c0c0" stroke="#d0d0d0" stroke-width="0.8"/>
<text font-family="Liberation Serif, serif" font-size="16"  x="596.1" y="235.5" text-anchor="start" fill="#000" style="font-kerning:none;letter-spacing:0.25px">AC</text>
<text font-family="Liberation Serif, serif" font-size="16"  x="596.1" y="261.6" text-anchor="start" fill="#000" style="font-kerning:none;letter-spacing:0.25px">GAT</text>
<text font-family="Liberation Serif, serif" font-size="16"  x="595.2" y="288.3" text-anchor="start" fill="#000" style="font-kerning:none;letter-spacing:0.25px">MM superior</text>
<text font-family="Liberation Serif, serif" font-size="16"  x="596.1" y="314.8" text-anchor="start" fill="#000" style="font-kerning:none;letter-spacing:0.12px">FB&#160; superior</text>
</svg>
</body></html>
